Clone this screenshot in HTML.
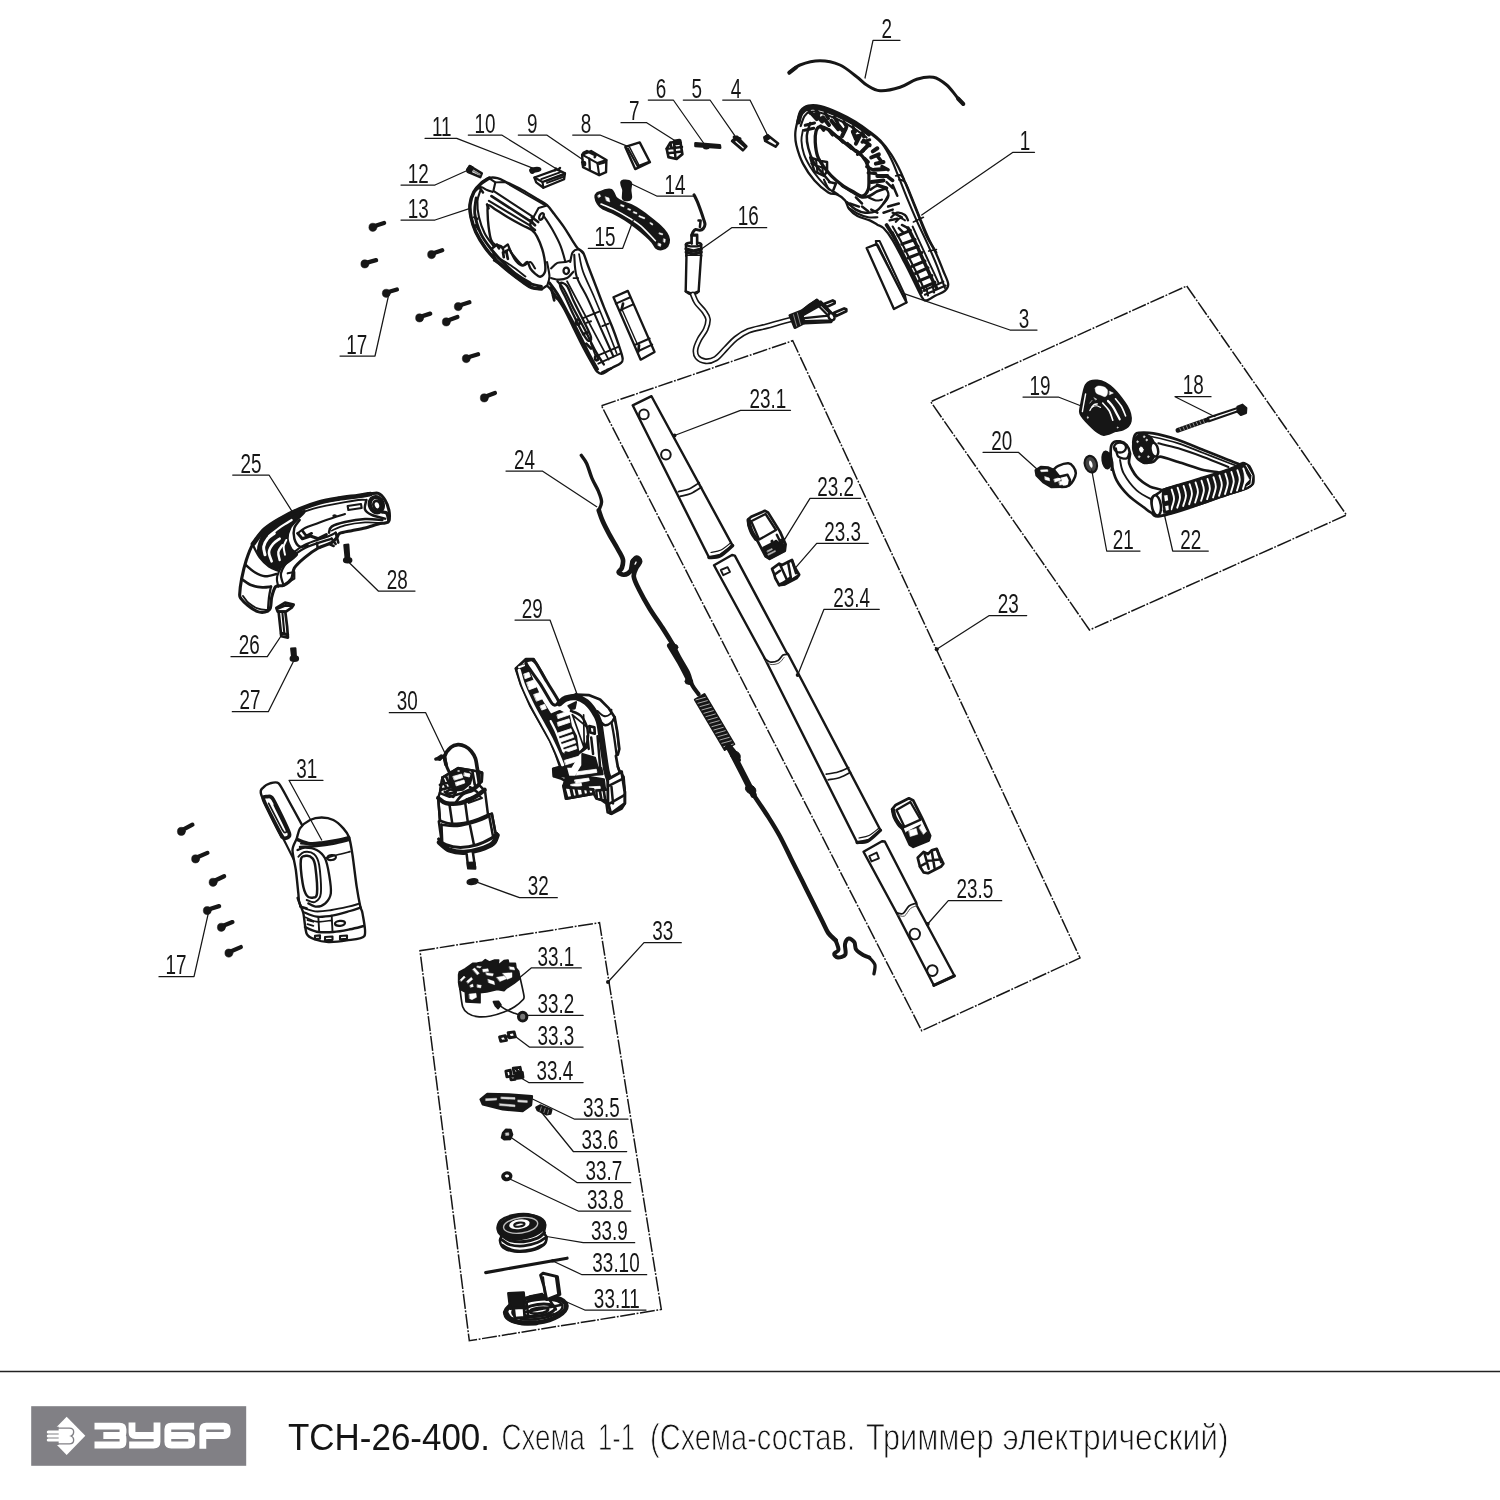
<!DOCTYPE html>
<html lang="ru"><head><meta charset="utf-8"><title>ТСН-26-400. Схема 1-1</title>
<style>
html,body{margin:0;padding:0;background:#fff;}
body{width:1500px;height:1500px;overflow:hidden;font-family:"Liberation Sans",sans-serif;}
svg{display:block;}
.z path,.z ellipse,.z circle,.z rect,.z line,.z polygon,.z polyline{vector-effect:non-scaling-stroke;}
</style></head><body>
<svg width="1500" height="1500" viewBox="0 0 1500 1500">
<rect width="1500" height="1500" fill="#fff"/>
<g fill="none" stroke="#161616" stroke-width="1.5" stroke-dasharray="15 1.6 1.8 1.6">
<polygon points="1186.7,286 1346.5,515 1089.5,630 930.7,401.7"/>
<polygon points="601.5,405.7 792.7,340.7 1080,958 921.7,1030.7"/>
<polygon points="420,950.7 599.5,922.7 661.3,1309.5 469.3,1340.7"/>
</g>
<!-- p01.py -->
<g class="z" transform="translate(770,90) scale(0.15337)" stroke-linecap="round" stroke-linejoin="round">
<path d="M180,200 C185.8,175.8 188.3,151.3 200,135 C211.7,118.7 228.3,107 250,102 C271.7,97 296.7,97 330,105 C363.3,113 411.7,132.8 450,150 C488.3,167.2 526.7,187.7 560,208 C593.3,228.3 623.3,251.7 650,272 C676.7,292.3 696.7,305.3 720,330 C743.3,354.7 768.3,386.7 790,420 C811.7,453.3 831.7,491.7 850,530 C868.3,568.3 881.7,605 900,650 C918.3,695 940,750 960,800 C980,850 1000,906.7 1020,950 C1040,993.3 1061.7,1021.7 1080,1060 C1098.3,1098.3 1116.3,1145.8 1130,1180 C1143.7,1214.2 1160.3,1243.3 1162,1265 C1163.7,1286.7 1153.7,1297.5 1140,1310 C1126.3,1322.5 1100,1329.7 1080,1340 C1060,1350.3 1035,1370.3 1020,1372 C1005,1373.7 1003.3,1370.3 990,1350 C976.7,1329.7 958.3,1286.7 940,1250 C921.7,1213.3 903.3,1175 880,1130 C856.7,1085 823.3,1018.3 800,980 C776.7,941.7 756.7,917 740,900 C723.3,883 715,886.3 700,878 C685,869.7 671.7,859.3 650,850 C628.3,840.7 592.5,834.5 570,822 C547.5,809.5 528.3,792 515,775 C501.7,758 502.5,735.5 490,720 C477.5,704.5 458.3,690.7 440,682 C421.7,673.3 405,683.3 380,668 C355,652.7 317.5,621.3 290,590 C262.5,558.7 234.7,518.3 215,480 C195.3,441.7 180.3,393.3 172,360 C163.7,326.7 163.7,306.7 165,280 C166.3,253.3 174.2,224.2 180,200Z" fill="#fff" stroke="#161616" stroke-width="2.3"/>
<path d="M185,210 C188.3,200 194.2,165.3 205,150 C215.8,134.7 229.2,122.7 250,118 C270.8,113.3 296.7,113.7 330,122 C363.3,130.3 411.7,150.7 450,168 C488.3,185.3 527.5,206 560,226 C592.5,246 630.8,277.7 645,288" fill="none" stroke="#161616" stroke-width="4.4"/>
<path d="M200,235 C204.2,224.2 214.7,185.5 225,170 C235.3,154.5 244.5,145.7 262,142 C279.5,138.3 298.7,139 330,148 C361.3,157 413.3,178.7 450,196 C486.7,213.3 520,233 550,252 C580,271 616.7,300.3 630,310" fill="none" stroke="#161616" stroke-width="2.1"/>
<path d="M300,270 C304.5,253.3 308.7,242 322,240 C335.3,238 362,248.3 380,258 C398,267.7 405,278 430,298 C455,318 501.7,356 530,378 C558.3,400 581.7,409.7 600,430 C618.3,450.3 632.5,475.8 640,500 C647.5,524.2 645,550 645,575 C645,600 647.5,630.5 640,650 C632.5,669.5 616.7,690 600,692 C583.3,694 561.7,674 540,662 C518.3,650 493.3,637 470,620 C446.7,603 420,580 400,560 C380,540 365,521.7 350,500 C335,478.3 319.2,456.7 310,430 C300.8,403.3 296.7,366.7 295,340 C293.3,313.3 295.5,286.7 300,270Z" fill="none" stroke="#161616" stroke-width="3.3"/>
<path d="M262,215 C258.3,229.2 242,272.5 240,300 C238,327.5 242.5,351.7 250,380 C257.5,408.3 270,443.3 285,470 C300,496.7 322.5,518.3 340,540 C357.5,561.7 381.7,590 390,600" fill="none" stroke="#161616" stroke-width="2.5"/>
<path d="M215,260 C213.3,271.7 203.8,303.3 205,330 C206.2,356.7 212.5,391.7 222,420 C231.5,448.3 245.7,473.3 262,500 C278.3,526.7 299.5,555 320,580 C340.5,605 374.2,638.3 385,650" fill="none" stroke="#161616" stroke-width="1.9"/>
<path d="M268,150 L305,190 M300,158 L340,205 M345,178 L385,228 M400,200 L445,255 M440,222 L480,272 M495,250 L470,300 M540,272 L560,320 M585,300 L560,350 M610,330 L650,360 M640,360 L600,400 M670,400 L700,380 M660,440 L710,420 M690,480 L740,470 M680,520 L750,515 M700,560 L765,560 M660,600 L740,590" fill="none" stroke="#161616" stroke-width="4"/>
<path d="M230,230 L290,215 M225,262 L285,250 M560,300 L610,290 M600,340 L650,325 M430,300 L470,330 M520,360 L560,400 M570,420 L610,395 M630,500 L670,520 M640,540 L690,545" fill="none" stroke="#161616" stroke-width="3.1"/>
<path d="M250,125 L262,150 M300,128 L318,160 M360,150 L380,185 M420,178 L440,212 M480,208 L500,240 M540,240 L556,272 M600,280 L612,305 M330,235 L350,262 M385,262 L408,292 M450,310 L475,338 M505,350 L530,378 M560,395 L590,415 M615,445 L640,470 M700,430 L730,470 M730,500 L770,520 M760,560 L800,590 M700,620 L760,640" fill="none" stroke="#161616" stroke-width="3.5"/>
<path d="M262,440 L330,462 L372,470 L372,530 L352,560 L290,530Z" fill="none" stroke="#161616" stroke-width="2.5"/>
<path d="M300,455 L310,540 M340,470 L345,550 M270,480 L350,510" fill="none" stroke="#161616" stroke-width="2.1"/>
<path d="M385,600 L430,610 L410,660 L440,680" fill="none" stroke="#161616" stroke-width="2.5"/>
<path d="M352,585 C356.7,594.2 368.7,626.2 380,640 C391.3,653.8 413.3,663.3 420,668" fill="none" stroke="#161616" stroke-width="2.1"/>
<path d="M470,625 C481.7,632.2 518.3,655.5 540,668 C561.7,680.5 581.7,696.3 600,700 C618.3,703.7 633.3,696.7 650,690 C666.7,683.3 681.7,668.3 700,660 C718.3,651.7 750,643.3 760,640" fill="none" stroke="#161616" stroke-width="2.7"/>
<path d="M500,730 C510,738.3 540,768.3 560,780 C580,791.7 598.3,798.3 620,800 C641.7,801.7 670,800 690,790 C710,780 726.7,756.7 740,740 C753.3,723.3 765,698.3 770,690" fill="none" stroke="#161616" stroke-width="2.5"/>
<path d="M515,770 C524.2,775.8 549.2,795 570,805 C590.8,815 618.3,825.8 640,830 C661.7,834.2 690,830 700,830" fill="none" stroke="#161616" stroke-width="2.1"/>
<path d="M655,650 C662.5,645.8 682.5,625 700,625 C717.5,625 748.3,637.5 760,650 C771.7,662.5 773.3,685 770,700 C766.7,715 745,733.3 740,740" fill="none" stroke="#161616" stroke-width="2.3"/>
<path d="M640,700 C648.3,703.3 675,717.5 690,720 C705,722.5 723.3,715.8 730,715" fill="none" stroke="#161616" stroke-width="2.1"/>
<path d="M520,740 L580,760 M600,760 L640,790 M660,780 L700,800 M560,700 L600,740 M760,600 L800,640 M800,620 L830,690 M770,760 L840,740 M740,800 L800,780 M800,800 L860,830 M780,850 L830,840" fill="none" stroke="#161616" stroke-width="2.5"/>
<path d="M790,830 C796.7,825 815,802.5 830,800 C845,797.5 868.3,806.7 880,815 C891.7,823.3 896.7,844.2 900,850" fill="none" stroke="#161616" stroke-width="2.3"/>
<path d="M820,860 C825,855.8 840,836.7 850,835 C860,833.3 875,847.5 880,850" fill="none" stroke="#161616" stroke-width="2.1"/>
<path d="M650,280 C663.3,291.7 706.7,321.7 730,350 C753.3,378.3 771.7,413.3 790,450 C808.3,486.7 821.7,525 840,570 C858.3,615 880,671.7 900,720 C920,768.3 938.3,811.7 960,860 C981.7,908.3 1008.3,961.7 1030,1010 C1051.7,1058.3 1071.7,1103.3 1090,1150 C1108.3,1196.7 1131.7,1266.7 1140,1290" fill="none" stroke="#161616" stroke-width="2.1"/>
<path d="M842,585 C848.3,587.5 867,582.5 880,600 C893,617.5 903.3,650 920,690 C936.7,730 960,791.7 980,840 C1000,888.3 1022.5,943.3 1040,980 C1057.5,1016.7 1077.5,1046.7 1085,1060" fill="none" stroke="#161616" stroke-width="2.1"/>
<path d="M820,560 C825,559.2 841.3,551.7 850,555 C858.7,558.3 868.3,575.8 872,580" fill="none" stroke="#161616" stroke-width="1.9"/>
<path d="M935,860 L1000,830" fill="none" stroke="#161616" stroke-width="1.7"/>
<path d="M1035,1050 L1085,1040" fill="none" stroke="#161616" stroke-width="1.7"/>
<path d="M760,880 C768.3,893.3 791.7,926.7 810,960 C828.3,993.3 850,1040 870,1080 C890,1120 910.8,1160 930,1200 C949.2,1240 975.8,1300 985,1320" fill="none" stroke="#161616" stroke-width="3.7"/>
<path d="M800,890 C808.3,905 831.7,945 850,980 C868.3,1015 891.7,1063.3 910,1100 C928.3,1136.7 943.3,1165 960,1200 C976.7,1235 1001.7,1291.7 1010,1310" fill="none" stroke="#161616" stroke-width="2.1"/>
<path d="M900,900 C908.3,916.7 933.3,965 950,1000 C966.7,1035 983.3,1073.3 1000,1110 C1016.7,1146.7 1035.8,1190 1050,1220 C1064.2,1250 1079.2,1278.3 1085,1290" fill="none" stroke="#161616" stroke-width="3.5"/>
<path d="M930,890 C938.3,908.3 961.7,960 980,1000 C998.3,1040 1020,1086.7 1040,1130 C1060,1173.3 1090,1238.3 1100,1260" fill="none" stroke="#161616" stroke-width="1.9"/>
<path d="M835,950 L915,915 M860,1005 L945,975 M880,1050 L965,1020 M900,1095 L990,1060 M925,1150 L1010,1115 M950,1195 L1030,1160 M970,1245 L1055,1210 M990,1290 L1075,1255" fill="none" stroke="#161616" stroke-width="3.1"/>
<path d="M1000,1310 L1130,1250 M1010,1335 L1145,1275 M1020,1290 L1030,1340 M1060,1275 L1070,1320" fill="none" stroke="#161616" stroke-width="2.1"/>
<path d="M840,900 L870,930 M860,880 L900,900 M800,930 L830,1000" fill="none" stroke="#161616" stroke-width="2.5"/>
</g>
<g class="z" transform="translate(770,90) scale(0.15337)" stroke-linecap="round" stroke-linejoin="round">
<path d="M630,1030 L695,1005 L890,1385 L808,1428Z" fill="#fff" stroke="#161616" stroke-width="2.3"/>
<path d="M695,1005 L690,985 L715,985 L880,1340 L890,1385" fill="none" stroke="#161616" stroke-width="2.1"/>
<path d="M705,1010 L872,1350" fill="none" stroke="#161616" stroke-width="1.4"/>
<path d="M808,1428 L800,1410" fill="none" stroke="#161616" stroke-width="1.7"/>
</g>
<!-- p02_16.py -->
<g class="z" transform="translate(0,0) scale(1.00000)" stroke-linecap="round" stroke-linejoin="round">
<path d="M789.3,72.7 C791.1,71.4 794.9,67 800,65 C805.1,63 813.3,60.7 820,60.7 C826.7,60.7 833.9,62.3 840,65 C846.1,67.7 852.2,73.4 856.7,76.7 C861.2,80 862.8,82.7 866.7,85 C870.6,87.3 874.5,90.3 880,90.7 C885.5,91.1 893.9,89.2 900,87.3 C906.1,85.4 911.2,81 916.7,79.3 C922.2,77.6 928.3,76.3 933.3,77.3 C938.3,78.2 942.8,81.8 946.7,85 C950.6,88.2 953.9,93.5 956.7,96.7 C959.5,99.9 962.2,102.8 963.3,104" fill="none" stroke="#161616" stroke-width="3"/>
<path d="M789.3,72.7 L796,67.5" fill="none" stroke="#161616" stroke-width="4"/>
<path d="M958,98.5 L963.3,104" fill="none" stroke="#161616" stroke-width="4"/>
</g>
<g class="z" transform="translate(520,110) scale(0.17999)" stroke-linecap="round" stroke-linejoin="round">
<ellipse cx="85" cy="332" rx="30" ry="11" transform="rotate(-8 85 332)" fill="#161616" stroke="#161616" stroke-width="1.6"/>
<ellipse cx="68" cy="338" rx="12" ry="14" fill="#161616" stroke="#161616" stroke-width="1.2"/>
<path d="M80,375 L205,330 L250,352 L245,385 L130,432 L90,402Z" fill="#fff" stroke="#161616" stroke-width="2.3"/>
<path d="M80,375 L125,400 L250,352" fill="none" stroke="#161616" stroke-width="2.1"/>
<path d="M125,400 L130,432" fill="none" stroke="#161616" stroke-width="2.1"/>
<path d="M118,384 L222,346 M138,396 L240,360 M150,405 L245,370" fill="none" stroke="#161616" stroke-width="1.9"/>
<path d="M195,335 L200,325 M215,330 L222,322" fill="none" stroke="#161616" stroke-width="2.5"/>
<path d="M345,248 L395,228 L480,278 L478,345 L440,362 L350,318Z" fill="#fff" stroke="#161616" stroke-width="2.4"/>
<path d="M345,248 L430,295 L480,278" fill="none" stroke="#161616" stroke-width="2.1"/>
<path d="M430,295 L440,362" fill="none" stroke="#161616" stroke-width="2.1"/>
<path d="M352,238 L372,228 L420,252 L415,262" fill="none" stroke="#161616" stroke-width="2.5"/>
<path d="M385,270 L388,330 M345,290 L360,300 M440,300 L475,290" fill="none" stroke="#161616" stroke-width="2.3"/>
<ellipse cx="355" cy="298" rx="9" ry="12" fill="#161616" stroke="#161616" stroke-width="1.6"/>
<path d="M585,205 L665,180 L722,290 L640,328Z" fill="#fff" stroke="#161616" stroke-width="2.4"/>
<path d="M600,215 L654,312 L718,288" fill="none" stroke="#161616" stroke-width="2.1"/>
<path d="M608,205 L660,305" fill="none" stroke="#161616" stroke-width="1.4"/>
<path d="M815,215 L835,182 L890,170 L902,245 L870,272 L825,262Z" fill="#fff" stroke="#161616" stroke-width="2.7"/>
<path d="M815,215 L900,205 M855,176 L864,268 M822,240 L898,230 M835,182 L842,212" fill="none" stroke="#161616" stroke-width="2.5"/>
<path d="M860,172 L885,168 M865,188 L892,184" fill="none" stroke="#161616" stroke-width="3.1"/>
<path d="M975,185 L1110,196 L1112,210 L975,200Z" fill="#161616" stroke="#161616" stroke-width="2.6"/>
<ellipse cx="1035" cy="207" rx="14" ry="8" fill="#161616" stroke="#161616" stroke-width="1.6"/>
<path d="M1178,172 L1205,148 L1258,202 L1238,224Z" fill="#161616" stroke="#161616" stroke-width="2.5"/>
<path d="M1200,175 L1240,210" fill="none" stroke="#fff" stroke-width="1.2"/>
<path d="M1190,150 L1222,160" fill="none" stroke="#161616" stroke-width="3.1"/>
<path d="M1358,152 L1376,140 L1434,186 L1420,204 L1362,172Z" fill="#fff" stroke="#161616" stroke-width="2.5"/>
<path d="M1358,152 L1376,140 L1384,158 L1364,172Z" fill="#161616" stroke="#161616" stroke-width="2.1"/>
</g>
<g class="z" transform="translate(670,190) scale(0.12666)" stroke-linecap="round" stroke-linejoin="round">
<path d="M190,38 C194.2,46.7 205.8,68 215,90 C224.2,112 236.7,146.7 245,170 C253.3,193.3 259.8,213 265,230 C270.2,247 276.5,259.5 276,272 C275.5,284.5 268.8,297.3 262,305 C255.2,312.7 245,316.8 235,318 C225,319.2 210.8,309.7 202,312 C193.2,314.3 187,324 182,332 C177,340 173.7,355.3 172,360" fill="none" stroke="#161616" stroke-width="3.1"/>
<path d="M225,240 L242,240 L236,292" fill="none" stroke="#161616" stroke-width="2.5"/>
<path d="M170,352 L215,352 L215,428 L170,428Z" fill="#fff" stroke="#161616" stroke-width="2.3"/>
<path d="M125,432 L130,522 L245,522 L247,432Z" fill="#fff" stroke="#161616" stroke-width="2.4"/>
<ellipse cx="186" cy="430" rx="61" ry="15" fill="#fff" stroke="#161616" stroke-width="2.4"/>
<path d="M172,425 L172,360 L213,360 L213,428" fill="#fff" stroke="#161616" stroke-width="2.3"/>
<path d="M127,465 C136.8,467.5 166.2,480 186,480 C205.8,480 236,467.5 246,465" fill="none" stroke="#161616" stroke-width="3.3"/>
<path d="M128,490 C137.7,492.5 166.3,505 186,505 C205.7,505 236,492.5 246,490" fill="none" stroke="#161616" stroke-width="3.3"/>
<path d="M130,515 C139.3,517.5 166.8,530 186,530 C205.2,530 235.2,517.5 245,515" fill="none" stroke="#161616" stroke-width="2.7"/>
<path d="M130,522 L124,800 L176,820 L226,800 L245,522" fill="#fff" stroke="#161616" stroke-width="2.4"/>
<path d="M124,800 C128.3,803 141.3,814.3 150,818 C158.7,821.7 166.8,822.3 176,822 C185.2,821.7 196.7,819.7 205,816 C213.3,812.3 222.5,802.7 226,800" fill="none" stroke="#161616" stroke-width="2.4"/>
<path d="M180,825 C185,835.8 195,867.5 210,890 C225,912.5 255,938.3 270,960 C285,981.7 298,996.7 300,1020 C302,1043.3 293.3,1073.3 282,1100 C270.7,1126.7 245.3,1153.3 232,1180 C218.7,1206.7 204.8,1236.7 202,1260 C199.2,1283.3 202,1304.7 215,1320 C228,1335.3 255.8,1350 280,1352 C304.2,1354 333.3,1348.7 360,1332 C386.7,1315.3 413.3,1278.7 440,1252 C466.7,1225.3 490,1195.3 520,1172 C550,1148.7 580,1128 620,1112 C660,1096 716.7,1087.7 760,1076 C803.3,1064.3 845.8,1051.3 880,1042 C914.2,1032.7 950.8,1023.7 965,1020" fill="none" stroke="#161616" stroke-width="5.9"/>
<path d="M180,825 C185,835.8 195,867.5 210,890 C225,912.5 255,938.3 270,960 C285,981.7 298,996.7 300,1020 C302,1043.3 293.3,1073.3 282,1100 C270.7,1126.7 245.3,1153.3 232,1180 C218.7,1206.7 204.8,1236.7 202,1260 C199.2,1283.3 202,1304.7 215,1320 C228,1335.3 255.8,1350 280,1352 C304.2,1354 333.3,1348.7 360,1332 C386.7,1315.3 413.3,1278.7 440,1252 C466.7,1225.3 490,1195.3 520,1172 C550,1148.7 580,1128 620,1112 C660,1096 716.7,1087.7 760,1076 C803.3,1064.3 845.8,1051.3 880,1042 C914.2,1032.7 950.8,1023.7 965,1020" fill="none" stroke="#fff" stroke-width="2.7"/>
<path d="M945,990 L1035,955 L1062,1050 L985,1088Z" fill="#161616" stroke="#161616" stroke-width="2.5"/>
<path d="M975,985 L1000,1075 M1005,970 L1030,1062" fill="none" stroke="#888" stroke-width="1"/>
<path d="M1035,958 L1160,868 L1292,1000 L1272,1042 L1062,1052Z" fill="#fff" stroke="#161616" stroke-width="2.7"/>
<path d="M1035,958 L1100,905 L1160,868 L1200,905 L1120,950 L1050,990Z" fill="#161616" stroke="#161616" stroke-width="2.1"/>
<path d="M1062,1012 L1250,992 M1150,892 L1275,1018 M1190,880 L1295,990 M1060,1035 L1270,1030" fill="none" stroke="#161616" stroke-width="2.3"/>
<path d="M1215,900 L1285,872 L1300,880 L1300,895 L1232,925Z" fill="#fff" stroke="#161616" stroke-width="2.7"/>
<path d="M1295,970 L1375,935 L1392,942 L1392,958 L1312,995Z" fill="#fff" stroke="#161616" stroke-width="2.7"/>
<ellipse cx="1275" cy="1000" rx="22" ry="30" transform="rotate(-30 1275 1000)" fill="#fff" stroke="#161616" stroke-width="2.5"/>
</g>
<g class="z" transform="translate(455,150) scale(0.08000)" stroke-linecap="round" stroke-linejoin="round">
<path d="M155,245 L185,200 L335,292 L315,340 L160,272Z" fill="#fff" stroke="#161616" stroke-width="2.5"/>
<path d="M150,248 L185,198 L225,222 L195,285 L158,272Z" fill="#161616" stroke="#161616" stroke-width="2.1"/>
<path d="M232,262 L312,308" fill="none" stroke="#888" stroke-width="1.7"/>
</g>
<g class="z" transform="translate(585,170) scale(0.08000)" stroke-linecap="round" stroke-linejoin="round">
<path d="M450,150 C452.5,144 470,131.5 480,130 C490,128.5 540,131.5 550,135 C560,138.5 578,153.5 580,165 C582,176.5 570,232.5 570,250 C570,267.5 581,327.5 580,340 C579,352.5 568,371 560,375 C552,379 509,382.5 500,380 C491,377.5 472.5,363 470,350 C467.5,337 476.5,266 475,250 C473.5,234 457.5,200 455,190 C452.5,180 447.5,156 450,150Z" fill="#161616" stroke="#161616" stroke-width="1.6"/>
<path d="M130,340 C128.7,322.7 139.3,299.3 150,290 C160.7,280.7 195.3,275.3 210,270 C224.7,264.7 244,252.7 260,250 C276,247.3 316.7,244.7 330,250 C343.3,255.3 352,276.7 360,290 C368,303.3 375.3,335.3 390,350 C404.7,364.7 444.7,388 470,400 C495.3,412 549.3,425.3 580,440 C610.7,454.7 668,488.7 700,510 C732,531.3 788,574.7 820,600 C852,625.3 913.3,674.7 940,700 C966.7,725.3 1005.3,767.3 1020,790 C1034.7,812.7 1048.7,848.7 1050,870 C1051.3,891.3 1042,934 1030,950 C1018,966 978.7,986.7 960,990 C941.3,993.3 906,987 890,975 C874,963 857.3,920.7 840,900 C822.7,879.3 786.7,844 760,820 C733.3,796 674.7,746.7 640,720 C605.3,693.3 537.3,644 500,620 C462.7,596 397.3,558.7 360,540 C322.7,521.3 246.7,496 220,480 C193.3,464 172,438.7 160,420 C148,401.3 131.3,357.3 130,340Z" fill="#161616" stroke="#161616" stroke-width="2.1"/>
<path d="M200,425 C226.7,436.2 300,462 360,492 C420,522 503.3,570 560,605 C616.7,640 646.7,655.3 700,702 C753.3,748.7 850,854.5 880,885" fill="none" stroke="#fff" stroke-width="1.6"/>
<path d="M255,335 L300,350 L310,400 L270,385Z" fill="#fff" stroke="#fff" stroke-width="0.5"/>
<path d="M450,430 L490,445 L485,462 L446,448Z" fill="#fff" stroke="#fff" stroke-width="0.5"/>
<path d="M540,480 L572,492 L566,506 L535,494Z" fill="#fff" stroke="#fff" stroke-width="0.5"/>
<path d="M610,520 L650,535 L645,550 L605,535Z" fill="#fff" stroke="#fff" stroke-width="0.5"/>
<path d="M680,570 L750,598 L742,612 L674,584Z" fill="#fff" stroke="#fff" stroke-width="0.5"/>
<path d="M930,785 L972,796 L968,812 L928,800Z" fill="#fff" stroke="#fff" stroke-width="0.5"/>
<path d="M985,860 L1004,866 L1000,905 L982,898Z" fill="#fff" stroke="#fff" stroke-width="0.5"/>
<path d="M918,915 L950,925 L944,955 L914,944Z" fill="#fff" stroke="#fff" stroke-width="0.5"/>
<path d="M160,320 L185,305 L195,330 L172,345Z" fill="#fff" stroke="#fff" stroke-width="0.5"/>
<path d="M820,655 L850,675 L842,690 L812,668Z" fill="#fff" stroke="#fff" stroke-width="0.5"/>
</g>
<!-- p13.py -->
<g class="z" transform="translate(455,150) scale(0.16005)" stroke-linecap="round" stroke-linejoin="round">
<path d="M215,175 C232.5,169 245.8,171 265,176 C284.2,181 304.2,192.7 330,205 C355.8,217.3 388.3,232.5 420,250 C451.7,267.5 494.2,294.2 520,310 C545.8,325.8 558.3,330 575,345 C591.7,360 602.5,377.5 620,400 C637.5,422.5 661.7,453.3 680,480 C698.3,506.7 715.8,538 730,560 C744.2,582 753.3,598.7 765,612 C776.7,625.3 789.2,622 800,640 C810.8,658 816.7,685 830,720 C843.3,755 863.3,806.7 880,850 C896.7,893.3 913.3,938.3 930,980 C946.7,1021.7 965,1061.7 980,1100 C995,1138.3 1008.8,1176.7 1020,1210 C1031.2,1243.3 1044.5,1279.7 1047,1300 C1049.5,1320.3 1046.2,1321.7 1035,1332 C1023.8,1342.3 999.2,1351.2 980,1362 C960.8,1372.8 935.3,1393.2 920,1397 C904.7,1400.8 898,1394.5 888,1385 C878,1375.5 874.7,1365.8 860,1340 C845.3,1314.2 820,1268.3 800,1230 C780,1191.7 760,1150 740,1110 C720,1070 700,1025 680,990 C660,955 635,921.3 620,900 C605,878.7 598,870.3 590,862 C582,853.7 580.3,849 572,850 C563.7,851 555.3,866.3 540,868 C524.7,869.7 500,867.7 480,860 C460,852.3 443.3,838.3 420,822 C396.7,805.7 366.7,783.7 340,762 C313.3,740.3 285,717 260,692 C235,667 211.7,642 190,612 C168.3,582 145,544 130,512 C115,480 106,448.7 100,420 C94,391.3 91,366.3 94,340 C97,313.7 107,283.3 118,262 C129,240.7 143.8,226.5 160,212 C176.2,197.5 197.5,181 215,175Z" fill="#fff" stroke="#161616" stroke-width="2.4"/>
<path d="M215,175 C205.8,181.2 176.2,197.5 160,212 C143.8,226.5 129,240.7 118,262 C107,283.3 97,313.7 94,340 C91,366.3 94,391.3 100,420 C106,448.7 115,480 130,512 C145,544 168.3,582 190,612 C211.7,642 235,667 260,692 C285,717 313.3,740.3 340,762 C366.7,783.7 396.7,805.7 420,822 C443.3,838.3 460,852.3 480,860 C500,867.7 530,866.7 540,868" fill="none" stroke="#161616" stroke-width="3.5"/>
<path d="M208,345 C215.7,340 229.7,357.5 250,370 C270.3,382.5 301.7,403.3 330,420 C358.3,436.7 395,456.7 420,470 C445,483.3 464.7,488.3 480,500 C495.3,511.7 501.2,520 512,540 C522.8,560 536.7,593.3 545,620 C553.3,646.7 559.2,676.3 562,700 C564.8,723.7 567,746.7 562,762 C557,777.3 542.3,790.3 532,792 C521.7,793.7 510,780.3 500,772 C490,763.7 480,754 472,742 C464,730 460.7,703.3 452,700 C443.3,696.7 432,723.3 420,722 C408,720.7 391.3,705.3 380,692 C368.7,678.7 359,654 352,642 C345,630 345,620.3 338,620 C331,619.7 318,643 310,640 C302,637 300,610 290,602 C280,594 260.8,599 250,592 C239.2,585 231.7,578.7 225,560 C218.3,541.3 213.5,506.7 210,480 C206.5,453.3 204.3,422.5 204,400 C203.7,377.5 200.3,350 208,345Z" fill="none" stroke="#161616" stroke-width="2.4"/>
<path d="M215,178 L252,202 L240,255 L490,420 L522,362 L575,347" fill="none" stroke="#161616" stroke-width="2.1"/>
<path d="M252,202 L312,200 L562,345" fill="none" stroke="#161616" stroke-width="1.9"/>
<path d="M228,288 L482,452" fill="none" stroke="#161616" stroke-width="2.7"/>
<path d="M212,318 L470,472" fill="none" stroke="#161616" stroke-width="2.1"/>
<path d="M490,420 C486.7,428.3 468.3,456.7 470,470 C471.7,483.3 495,495 500,500" fill="none" stroke="#161616" stroke-width="2.5"/>
<ellipse cx="540" cy="415" rx="12" ry="22" transform="rotate(25 540 415)" fill="none" stroke="#161616" stroke-width="2.3"/>
<path d="M470,440 L500,470 M480,420 L520,450" fill="none" stroke="#161616" stroke-width="2.7"/>
<path d="M132,300 C130.7,316.7 119.3,363.3 124,400 C128.7,436.7 144,484.7 160,520 C176,555.3 196.7,581.7 220,612 C243.3,642.3 270,672 300,702 C330,732 373.3,770.3 400,792 C426.7,813.7 436.7,822 460,832 C483.3,842 526.7,848.7 540,852" fill="none" stroke="#161616" stroke-width="2.9"/>
<path d="M160,250 C156.7,261.7 141.7,291.7 140,320 C138.3,348.3 142.5,386.7 150,420 C157.5,453.3 170,490 185,520 C200,550 230.8,586.7 240,600" fill="none" stroke="#161616" stroke-width="2.1"/>
<path d="M120,262 C126.7,257 146.7,234 160,232 C173.3,230 187.5,245 200,250 C212.5,255 229.2,260 235,262" fill="none" stroke="#161616" stroke-width="2.1"/>
<path d="M150,230 L175,265 M130,470 L150,500 M120,420 L140,430 M200,340 L210,365" fill="none" stroke="#161616" stroke-width="2.5"/>
<path d="M225,620 L262,592 L300,612 L330,590 L350,640" fill="none" stroke="#161616" stroke-width="2.3"/>
<path d="M240,640 L250,680 M320,630 L330,680 M300,640 L305,670 M262,592 L275,615" fill="none" stroke="#161616" stroke-width="2.7"/>
<path d="M245,690 C259.2,698.7 300.8,723.7 330,742 C359.2,760.3 396.7,785.3 420,800 C443.3,814.7 461.7,825 470,830" fill="none" stroke="#161616" stroke-width="2.7"/>
<path d="M265,672 C279.2,680.3 320.8,702.3 350,722 C379.2,741.7 425,778.7 440,790" fill="none" stroke="#161616" stroke-width="1.9"/>
<path d="M352,642 C360,651.7 387,686.7 400,700 C413,713.3 418.3,722 430,722 C441.7,722 458.3,697 470,700 C481.7,703 495,733.3 500,740" fill="none" stroke="#161616" stroke-width="2.1"/>
<path d="M560,420 C568.3,433.3 593.3,470 610,500 C626.7,530 646.7,566.7 660,600 C673.3,633.3 685,683.3 690,700" fill="none" stroke="#161616" stroke-width="2.1"/>
<path d="M575,700 C577.5,715 590,765 590,790 C590,815 577.5,840 575,850" fill="none" stroke="#161616" stroke-width="2.1"/>
<path d="M600,740 C606.7,734.2 625,711.7 640,705 C655,698.3 676.7,702.5 690,700 C703.3,697.5 715,691.7 720,690" fill="none" stroke="#161616" stroke-width="2.1"/>
<ellipse cx="695" cy="755" rx="17" ry="20" fill="none" stroke="#161616" stroke-width="2.3"/>
<path d="M720,700 C722.5,690 726.3,653 735,640 C743.7,627 761.2,621.2 772,622 C782.8,622.8 795.3,641.2 800,645" fill="none" stroke="#161616" stroke-width="2.1"/>
<path d="M745,655 C747.5,677.5 745.8,744.2 760,790 C774.2,835.8 805.8,878.3 830,930 C854.2,981.7 878.3,1040 905,1100 C931.7,1160 975.8,1258.3 990,1290" fill="none" stroke="#161616" stroke-width="2.1"/>
<path d="M775,650 C779.2,668.3 784.2,715 800,760 C815.8,805 846.7,865 870,920 C893.3,975 916.7,1031.7 940,1090 C963.3,1148.3 998.3,1240 1010,1270" fill="none" stroke="#161616" stroke-width="1.7"/>
<path d="M590,830 C598.3,841.7 621.7,870 640,900 C658.3,930 678.3,970 700,1010 C721.7,1050 746.7,1095 770,1140 C793.3,1185 820,1241.7 840,1280 C860,1318.3 881.7,1355 890,1370" fill="none" stroke="#161616" stroke-width="3.1"/>
<path d="M640,820 C646.7,828.3 663.3,841.7 680,870 C696.7,898.3 718.3,948.3 740,990 C761.7,1031.7 786.7,1075 810,1120 C833.3,1165 860,1223.3 880,1260 C900,1296.7 921.7,1326.7 930,1340" fill="none" stroke="#161616" stroke-width="2.3"/>
<path d="M600,800 C608.3,801.7 633.3,810 650,810 C666.7,810 685,808.3 700,800 C715,791.7 733.3,766.7 740,760" fill="none" stroke="#161616" stroke-width="2.1"/>
<path d="M660,830 C666.7,828.3 686.7,831.7 700,850 C713.3,868.3 723.3,905 740,940 C756.7,975 781.7,1021.7 800,1060 C818.3,1098.3 845,1148.3 850,1170 C855,1191.7 840,1196.7 830,1190 C820,1183.3 805,1156.7 790,1130 C775,1103.3 756.7,1065 740,1030 C723.3,995 703.3,948.3 690,920 C676.7,891.7 665,875 660,860 C655,845 653.3,831.7 660,830Z" fill="none" stroke="#161616" stroke-width="2.3"/>
<path d="M700,820 L960,1310" fill="none" stroke="#161616" stroke-width="1.7"/>
<path d="M740,800 L770,800" fill="none" stroke="#161616" stroke-width="1.7"/>
<path d="M800,1050 L900,1010 M820,1080 L850,1070 M920,1100 L960,1085 M850,1210 L880,1290 M880,1290 L1020,1230 M895,1335 L1035,1270" fill="none" stroke="#161616" stroke-width="1.9"/>
<ellipse cx="768" cy="1075" rx="12" ry="16" fill="none" stroke="#161616" stroke-width="2.7"/>
<ellipse cx="885" cy="1300" rx="10" ry="14" fill="none" stroke="#161616" stroke-width="2.7"/>
<path d="M820,1210 L850,1240 M800,1150 L830,1140 M600,860 L620,940 M610,900 L640,930" fill="none" stroke="#161616" stroke-width="2.7"/>
<path d="M920,1390 L940,1380 M950,1375 L975,1365" fill="none" stroke="#161616" stroke-width="2.7"/>
</g>
<g class="z" transform="translate(455,150) scale(0.16005)" stroke-linecap="round" stroke-linejoin="round">
<path d="M990,920 L1080,880 L1247,1262 L1160,1310Z" fill="#fff" stroke="#161616" stroke-width="2.3"/>
<path d="M1005,960 L1095,920 M1030,1002 L1110,966 M1130,1215 L1216,1178 M1146,1256 L1232,1216" fill="none" stroke="#161616" stroke-width="2.1"/>
<path d="M1040,1000 L1050,960 M1145,1260 L1150,1220" fill="none" stroke="#161616" stroke-width="2.7"/>
<path d="M1045,1000 L1140,1215" fill="none" stroke="#161616" stroke-width="1.4"/>
</g>
<!-- p17.py -->
<g class="z" transform="translate(0,0) scale(1.00000)" stroke-linecap="round" stroke-linejoin="round">
<path d="M372.3,226.7 L384.1,223" fill="none" stroke="#161616" stroke-width="4.3"/>
<ellipse cx="372.9" cy="227.3" rx="4" ry="4.1" fill="#161616" stroke="#161616" stroke-width="0.5"/>
<path d="M364.3,263.3 L376.1,260.2" fill="none" stroke="#161616" stroke-width="4.3"/>
<ellipse cx="364.9" cy="263.9" rx="4" ry="4.1" fill="#161616" stroke="#161616" stroke-width="0.5"/>
<path d="M431,254 L442.2,250.3" fill="none" stroke="#161616" stroke-width="4.3"/>
<ellipse cx="431.6" cy="254.6" rx="4" ry="4.1" fill="#161616" stroke="#161616" stroke-width="0.5"/>
<path d="M385.7,292.7 L396.9,289.5" fill="none" stroke="#161616" stroke-width="4.3"/>
<ellipse cx="386.3" cy="293.3" rx="4" ry="4.1" fill="#161616" stroke="#161616" stroke-width="0.5"/>
<path d="M419,317.3 L430.2,313.6" fill="none" stroke="#161616" stroke-width="4.3"/>
<ellipse cx="419.6" cy="317.9" rx="4" ry="4.1" fill="#161616" stroke="#161616" stroke-width="0.5"/>
<path d="M457.7,306 L469.4,302.3" fill="none" stroke="#161616" stroke-width="4.3"/>
<ellipse cx="458.3" cy="306.6" rx="4" ry="4.1" fill="#161616" stroke="#161616" stroke-width="0.5"/>
<path d="M445.7,321.3 L457.4,317" fill="none" stroke="#161616" stroke-width="4.3"/>
<ellipse cx="446.3" cy="321.9" rx="4" ry="4.1" fill="#161616" stroke="#161616" stroke-width="0.5"/>
<path d="M465.7,358 L478.1,354.3" fill="none" stroke="#161616" stroke-width="4.3"/>
<ellipse cx="466.3" cy="358.6" rx="4" ry="4.1" fill="#161616" stroke="#161616" stroke-width="0.5"/>
<path d="M483.7,397.3 L494.9,393" fill="none" stroke="#161616" stroke-width="4.3"/>
<ellipse cx="484.3" cy="397.9" rx="4" ry="4.1" fill="#161616" stroke="#161616" stroke-width="0.5"/>
<path d="M180.8,830.8 L192.4,824.7" fill="none" stroke="#161616" stroke-width="4.3"/>
<ellipse cx="181.4" cy="831.4" rx="4" ry="4.1" fill="#161616" stroke="#161616" stroke-width="0.5"/>
<path d="M195,858.3 L207.4,852.9" fill="none" stroke="#161616" stroke-width="4.3"/>
<ellipse cx="195.6" cy="858.9" rx="4" ry="4.1" fill="#161616" stroke="#161616" stroke-width="0.5"/>
<path d="M212.5,881.7 L224.1,876.2" fill="none" stroke="#161616" stroke-width="4.3"/>
<ellipse cx="213.1" cy="882.3" rx="4" ry="4.1" fill="#161616" stroke="#161616" stroke-width="0.5"/>
<path d="M206.7,910 L219.1,906.1" fill="none" stroke="#161616" stroke-width="4.3"/>
<ellipse cx="207.3" cy="910.6" rx="4" ry="4.1" fill="#161616" stroke="#161616" stroke-width="0.5"/>
<path d="M220.8,926.7 L232.4,922.1" fill="none" stroke="#161616" stroke-width="4.3"/>
<ellipse cx="221.4" cy="927.3" rx="4" ry="4.1" fill="#161616" stroke="#161616" stroke-width="0.5"/>
<path d="M228.3,952.5 L240.8,947.1" fill="none" stroke="#161616" stroke-width="4.3"/>
<ellipse cx="228.9" cy="953.1" rx="4" ry="4.1" fill="#161616" stroke="#161616" stroke-width="0.5"/>
</g>
<!-- p18_22.py -->
<g class="z" transform="translate(1020,370) scale(0.16667)" stroke-linecap="round" stroke-linejoin="round">
<path d="M948,362 L1130,297" fill="none" stroke="#161616" stroke-width="4.8"/>
<path d="M1128,286 L1310,226 L1316,244 L1134,308Z" fill="#fff" stroke="#161616" stroke-width="2.1"/>
<path d="M1305,220 L1335,208 L1358,228 L1356,258 L1325,270 L1305,250Z" fill="#161616" stroke="#161616" stroke-width="2.1"/>
<path d="M958,348 L966,366" fill="none" stroke="#aaa" stroke-width="0.8"/>
<path d="M978,340.8 L986,358.8" fill="none" stroke="#aaa" stroke-width="0.8"/>
<path d="M998,333.6 L1006,351.6" fill="none" stroke="#aaa" stroke-width="0.8"/>
<path d="M1018,326.4 L1026,344.4" fill="none" stroke="#aaa" stroke-width="0.8"/>
<path d="M1038,319.2 L1046,337.2" fill="none" stroke="#aaa" stroke-width="0.8"/>
<path d="M1058,312 L1066,330" fill="none" stroke="#aaa" stroke-width="0.8"/>
<path d="M1078,304.8 L1086,322.8" fill="none" stroke="#aaa" stroke-width="0.8"/>
<path d="M1098,297.6 L1106,315.6" fill="none" stroke="#aaa" stroke-width="0.8"/>
<path d="M700,380 C714,374.2 770.8,375.3 800,380 C829.2,384.7 915,408.3 950,420 C985,431.7 1065,466 1100,480 C1135,494 1220.8,528.3 1250,540 C1279.2,551.7 1333.4,570.1 1350,580 C1366.6,589.9 1386.4,613.3 1392,625 C1397.6,636.7 1402.9,669.9 1398,680 C1393.1,690.1 1373.1,702.7 1350,712 C1326.9,721.3 1240.8,746 1200,760 C1159.2,774 1043.2,818.2 1000,832 C956.8,845.8 854.5,875.9 830,878 C805.5,880.1 794.7,862.6 790,850 C785.3,837.4 783,784.9 790,770 C797,755.1 825.5,732.5 850,722 C874.5,711.5 960.3,691.9 1000,680 C1039.7,668.1 1178.3,629.3 1190,620 C1201.7,610.7 1128,607.9 1100,600 C1072,592.1 980.3,561.3 950,552 C919.7,542.7 857.5,520.2 840,520 C822.5,519.8 811.7,545.9 800,550 C788.3,554.1 752.8,560.8 740,555 C727.2,549.2 697,514.6 690,500 C683,485.4 678.8,444 680,430 C681.2,416 686,385.8 700,380Z" fill="#fff" stroke="#161616" stroke-width="2.7"/>
<path d="M830,440 C850,445 905,456.3 950,470 C995,483.7 1050,503.3 1100,522 C1150,540.7 1225,572 1250,582" fill="none" stroke="#161616" stroke-width="2.1"/>
<path d="M720,392 C733.3,393.7 761.7,394 800,402 C838.3,410 900,424 950,440 C1000,456 1050,478.7 1100,498 C1150,517.3 1210,540.7 1250,556 C1290,571.3 1325,584.3 1340,590" fill="none" stroke="#161616" stroke-width="1.7"/>
<ellipse cx="745" cy="470" rx="62" ry="84" transform="rotate(-12 745 470)" fill="#161616" stroke="#161616" stroke-width="3.5"/>
<ellipse cx="738" cy="475" rx="40" ry="60" transform="rotate(-12 738 475)" fill="#161616" stroke="#161616" stroke-width="5.2"/>
<ellipse cx="728" cy="478" rx="10" ry="16" transform="rotate(-12 728 478)" fill="#fff" stroke="#fff" stroke-width="1"/>
<ellipse cx="705" cy="430" rx="5" ry="6" fill="#ddd" stroke="#ddd" stroke-width="0.5"/>
<ellipse cx="760" cy="420" rx="5" ry="6" fill="#ddd" stroke="#ddd" stroke-width="0.5"/>
<ellipse cx="715" cy="520" rx="5" ry="6" fill="#ddd" stroke="#ddd" stroke-width="0.5"/>
<ellipse cx="770" cy="520" rx="5" ry="6" fill="#ddd" stroke="#ddd" stroke-width="0.5"/>
<ellipse cx="745" cy="400" rx="5" ry="6" fill="#ddd" stroke="#ddd" stroke-width="0.5"/>
<ellipse cx="806" cy="478" rx="22" ry="42" transform="rotate(-12 806 478)" fill="#fff" stroke="#161616" stroke-width="2.5"/>
<path d="M850,722 C875,715 943.3,697 1000,680 C1056.7,663 1141.7,635.3 1190,620 C1238.3,604.7 1264.2,594.7 1290,588 C1315.8,581.3 1335.8,581.3 1345,580" fill="none" stroke="#161616" stroke-width="2.3"/>
<path d="M545,470 C546.3,453.1 552.7,440.6 560,435 C567.3,429.4 589.3,426 600,428 C610.7,430 632,440.4 640,450 C648,459.6 658,485.3 660,500 C662,514.7 649.7,541.3 655,560 C660.3,578.7 683.3,621.3 700,640 C716.7,658.7 760,689.1 780,700 C800,710.9 848.7,712.4 850,722 C851.3,731.6 796.7,753.6 790,772 C783.3,790.4 806.7,853.3 800,860 C793.3,866.7 760,836.4 740,822 C720,807.6 671.3,773.3 650,752 C628.7,730.7 593.3,687.3 580,662 C566.7,636.7 554.7,587.6 550,562 C545.3,536.4 543.7,486.9 545,470Z" fill="#fff" stroke="#161616" stroke-width="2.7"/>
<path d="M600,540 C603.7,553.3 605.3,589.7 622,620 C638.7,650.3 670.3,695 700,722 C729.7,749 783.3,772 800,782" fill="none" stroke="#161616" stroke-width="1.9"/>
<path d="M575,470 C577.5,478.3 579.2,510 590,520 C600.8,530 629.2,533.3 640,530 C650.8,526.7 652.5,505 655,500" fill="none" stroke="#161616" stroke-width="2.3"/>
<ellipse cx="600" cy="465" rx="36" ry="30" fill="none" stroke="#161616" stroke-width="2.3"/>
<ellipse cx="520" cy="540" rx="24" ry="50" transform="rotate(-8 520 540)" fill="#161616" stroke="#161616" stroke-width="2.5"/>
<path d="M540,500 C542.5,510 553.7,543.3 555,560 C556.3,576.7 549.2,593.3 548,600" fill="none" stroke="#161616" stroke-width="2.1"/>
<ellipse cx="425" cy="565" rx="33" ry="48" transform="rotate(-15 425 565)" fill="#fff" stroke="#161616" stroke-width="3.1"/>
<ellipse cx="425" cy="565" rx="20" ry="33" transform="rotate(-15 425 565)" fill="none" stroke="#444" stroke-width="3.5"/>
<path d="M200,600 C205,595.8 215,581.7 230,575 C245,568.3 275,559.2 290,560 C305,560.8 312.5,570 320,580 C327.5,590 335,606.3 335,620 C335,633.7 326.7,650 320,662 C313.3,674 306.7,685.3 295,692 C283.3,698.7 263.3,702.3 250,702 C236.7,701.7 220.8,692 215,690" fill="#fff" stroke="#161616" stroke-width="2.5"/>
<path d="M95,602 L125,582 L170,586 L205,602 L235,640 L250,700 L190,702 L140,672 L100,632Z" fill="#161616" stroke="#161616" stroke-width="2.7"/>
<path d="M150,640 L175,648 L178,665 L152,658Z" fill="#fff" stroke="#fff" stroke-width="0.6"/>
<path d="M205,655 L240,645 L245,660 L210,672Z" fill="#fff" stroke="#fff" stroke-width="0.6"/>
<path d="M125,600 L165,598 L168,608 L128,610Z" fill="#fff" stroke="#fff" stroke-width="0.6"/>
<path d="M235,670 L290,660 L292,680 L240,690Z" fill="#fff" stroke="#fff" stroke-width="0.6"/>
<path d="M235,640 L285,628 L300,660 L295,690" fill="none" stroke="#161616" stroke-width="2.5"/>
</g>
<g class="z" transform="translate(1060,370) scale(0.05333)" stroke-linecap="round" stroke-linejoin="round">
<path d="M370,780 C370,745.3 390.7,650.7 400,600 C409.3,549.3 429.3,442.7 440,400 C450.7,357.3 464,305.3 480,280 C496,254.7 530.7,221.3 560,210 C589.3,198.7 661.3,191 700,195 C738.7,199 810,219.3 850,240 C890,260.7 960,312.7 1000,350 C1040,387.3 1115.3,476 1150,520 C1184.7,564 1237.3,640 1260,680 C1282.7,720 1310.7,782.7 1320,820 C1329.3,857.3 1335.3,928 1330,960 C1324.7,992 1300,1038.7 1280,1060 C1260,1081.3 1212,1108 1180,1120 C1148,1132 1074.7,1139.3 1040,1150 C1005.3,1160.7 949.3,1190.4 920,1200 C890.7,1209.6 846.7,1224.7 820,1222 C793.3,1219.3 749.3,1198.9 720,1180 C690.7,1161.1 632,1109.3 600,1080 C568,1050.7 506.7,989.3 480,960 C453.3,930.7 414.7,884 400,860 C385.3,836 370,814.7 370,780Z" fill="#161616" stroke="#161616" stroke-width="1.6"/>
<path d="M660,340 C665.3,322.7 697.3,302.7 720,300 C742.7,297.3 807.3,309.3 830,320 C852.7,330.7 883.3,360 890,380 C896.7,400 886.7,454 880,470 C873.3,486 856,500 840,500 C824,500 781.3,479.3 760,470 C738.7,460.7 693.3,447.3 680,430 C666.7,412.7 654.7,357.3 660,340Z" fill="#fff" stroke="#fff" stroke-width="0.5"/>
<path d="M930,400 L1000,432 L930,462Z" fill="#fff" stroke="#fff" stroke-width="0.5"/>
<path d="M900,580 C916.7,600 970,655 1000,700 C1030,745 1060,812.5 1080,850 C1100,887.5 1113.3,912.5 1120,925" fill="none" stroke="#fff" stroke-width="2.2"/>
<path d="M800,620 C820,643.3 888.3,706.7 920,760 C951.7,813.3 978.3,910 990,940" fill="none" stroke="#fff" stroke-width="1.6"/>
<path d="M1040,540 C1058.3,563.3 1118.3,626.7 1150,680 C1181.7,733.3 1216.7,830 1230,860" fill="none" stroke="#fff" stroke-width="1.6"/>
<path d="M480,450 C474.2,481.7 455,585 445,640 C435,695 424.2,756.7 420,780" fill="none" stroke="#fff" stroke-width="1.4"/>
<path d="M600,690 C606.7,683.3 623.3,659.2 640,650 C656.7,640.8 690,637.5 700,635" fill="none" stroke="#fff" stroke-width="1.4"/>
<path d="M560,760 C566.7,750 580,715 600,700 C620,685 653.3,670 680,670 C706.7,670 746.7,695 760,700" fill="none" stroke="#fff" stroke-width="1.2"/>
<path d="M560,620 L600,570" fill="none" stroke="#ddd" stroke-width="0.7"/>
<path d="M640,520 L690,548 L670,560Z" fill="#fff" stroke="#fff" stroke-width="0.4"/>
<ellipse cx="520" cy="890" rx="14" ry="20" fill="#ddd" stroke="#ddd" stroke-width="0.3"/>
<ellipse cx="1080" cy="1080" rx="14" ry="14" fill="#ccc" stroke="#ccc" stroke-width="0.3"/>
</g>
<g class="z" transform="translate(1100,420) scale(0.10667)" stroke-linecap="round" stroke-linejoin="round">
<path d="M600,655 C617,639 724,611.5 760,600 C796,588.5 921,552 960,540 C999,528 1120,490 1150,480 C1180,470 1241,447.8 1260,440 C1279,432.2 1326,403 1340,402 C1354,401 1390,418.2 1400,430 C1410,441.8 1437,503 1440,520 C1443,537 1436,588 1430,600 C1424,612 1403,630 1380,640 C1357,650 1238,687 1200,700 C1162,713 1040,757 1000,770 C960,783 835,819.2 800,830 C765,840.8 669,875 650,878 C631,881 616,871.8 610,860 C604,848.2 591,780.5 590,760 C589,739.5 583,671 600,655Z" fill="#161616" stroke="#161616" stroke-width="2.1"/>
<path d="M672,652 C675.7,666.7 694.7,709 694,740 C693.3,771 672.3,821.7 668,838" fill="none" stroke="#fff" stroke-width="1.9"/>
<path d="M728,635.5 C731.7,650.2 750.7,692.4 750,723.5 C749.3,754.6 728.3,805.6 724,822" fill="none" stroke="#fff" stroke-width="1.9"/>
<path d="M784,619 C787.7,633.7 806.7,675.8 806,707 C805.3,738.2 784.3,789.5 780,806" fill="none" stroke="#fff" stroke-width="1.9"/>
<path d="M840,602.5 C843.7,617.2 862.7,659.3 862,690.5 C861.3,721.7 840.3,773.4 836,790" fill="none" stroke="#fff" stroke-width="1.9"/>
<path d="M896,586 C899.7,600.7 918.7,642.7 918,674 C917.3,705.3 896.3,757.3 892,774" fill="none" stroke="#fff" stroke-width="1.9"/>
<path d="M952,569.5 C955.7,584.2 974.7,626.1 974,657.5 C973.3,688.9 952.3,741.2 948,758" fill="none" stroke="#fff" stroke-width="1.9"/>
<path d="M1008,553 C1011.7,567.7 1030.7,609.5 1030,641 C1029.3,672.5 1008.3,725.1 1004,742" fill="none" stroke="#fff" stroke-width="1.9"/>
<path d="M1064,536.5 C1067.7,551.2 1086.7,592.9 1086,624.5 C1085.3,656.1 1064.3,709.1 1060,726" fill="none" stroke="#fff" stroke-width="1.9"/>
<path d="M1120,520 C1123.7,534.7 1142.7,576.3 1142,608 C1141.3,639.7 1120.3,693 1116,710" fill="none" stroke="#fff" stroke-width="1.9"/>
<path d="M1176,503.5 C1179.7,518.2 1198.7,559.8 1198,591.5 C1197.3,623.2 1176.3,676.9 1172,694" fill="none" stroke="#fff" stroke-width="1.9"/>
<path d="M1232,487 C1235.7,501.7 1254.7,543.2 1254,575 C1253.3,606.8 1232.3,660.8 1228,678" fill="none" stroke="#fff" stroke-width="1.9"/>
<path d="M1288,470.5 C1291.7,485.2 1310.7,526.6 1310,558.5 C1309.3,590.4 1288.3,644.7 1284,661.9" fill="none" stroke="#fff" stroke-width="1.9"/>
<path d="M1344,454 C1347.7,468.7 1366.7,510 1366,542 C1365.3,574 1344.3,628.6 1340,645.9" fill="none" stroke="#fff" stroke-width="1.9"/>
<path d="M1370,425 L1425,520 L1415,600 L1375,625" fill="none" stroke="#fff" stroke-width="1"/>
<path d="M1350,470 L1400,560 L1360,600Z" fill="#fff" stroke="#fff" stroke-width="0.5"/>
<ellipse cx="528" cy="800" rx="42" ry="95" transform="rotate(-8 528 800)" fill="#fff" stroke="#161616" stroke-width="2.5"/>
<path d="M590,700 L640,690 L650,760 L600,775Z" fill="#fff" stroke="#161616" stroke-width="2.1"/>
<path d="M600,800 L650,790 L655,850 L610,862Z" fill="#fff" stroke="#161616" stroke-width="2.1"/>
</g>
<!-- p23.py -->
<g class="z" transform="translate(0,0) scale(1.00000)" stroke-linecap="round" stroke-linejoin="round">
<path d="M632.7,405.3 L651.5,396.2 L732.6,545.6 L720,555 L709,557.5Z" fill="#fff" stroke="#161616" stroke-width="2.4"/>
<path d="M709,557.5 C710.8,557.2 716.1,558 720,556 C723.9,554 730.5,547.3 732.6,545.6" fill="none" stroke="#161616" stroke-width="3.5"/>
<path d="M711,552.5 C712.7,552.1 717.8,551.6 721,550 C724.2,548.4 728.9,544.2 730.5,543" fill="none" stroke="#161616" stroke-width="1.2"/>
<ellipse cx="643.9" cy="414.4" rx="4.8" ry="4.9" fill="none" stroke="#161616" stroke-width="2"/>
<ellipse cx="665.9" cy="454.6" rx="4.8" ry="4.9" fill="none" stroke="#161616" stroke-width="2"/>
<path d="M678.3,491.7 C680.1,491.2 685.5,490.5 689,489 C692.5,487.5 697.6,483.8 699.3,482.7" fill="none" stroke="#161616" stroke-width="1.7"/>
<path d="M680.2,496.4 C682,495.9 687.5,495 691,493.5 C694.5,492 699.8,488.2 701.5,487.2" fill="none" stroke="#161616" stroke-width="1.7"/>
<path d="M714,565.2 L732,555 L734.8,555.6 L786.5,652.5 L788.3,654.5 L880.5,830.2 L869,840 L857.1,842.5 L765,659 L764,657Z" fill="#fff" stroke="#161616" stroke-width="2.4"/>
<path d="M857.1,842.5 C858.9,842.2 864.1,843 868,841 C871.9,839 878.4,832 880.5,830.2" fill="none" stroke="#161616" stroke-width="3.3"/>
<path d="M859,838 C860.7,837.6 865.8,837.1 869,835.5 C872.2,833.9 876.9,829.7 878.5,828.5" fill="none" stroke="#161616" stroke-width="1.2"/>
<path d="M720.8,570 L727.6,567.2 L730,572 L723.2,575.2Z" fill="none" stroke="#161616" stroke-width="1.9"/>
<path d="M764.5,658.3 C765.4,658.9 767.8,661.6 770,662 C772.2,662.4 775.8,661.7 778,660.5 C780.2,659.3 781.3,656 783,655 C784.7,654 787.4,654.4 788.3,654.3" fill="none" stroke="#161616" stroke-width="1.7"/>
<path d="M766,661 C766.8,661.6 768.8,664.2 771,664.5 C773.2,664.8 776.8,664.2 779,663 C781.2,661.8 783.2,658.4 784,657.5" fill="none" stroke="#555" stroke-width="1"/>
<path d="M826.3,774.2 C828.2,773.8 834.3,773.1 838,772 C841.7,770.9 846.9,768.3 848.7,767.6" fill="none" stroke="#161616" stroke-width="1.7"/>
<path d="M828.2,779.8 C830.2,779.4 836.3,778.8 840,777.5 C843.7,776.2 848.8,773.2 850.6,772.3" fill="none" stroke="#161616" stroke-width="1.7"/>
<path d="M863.5,851.8 L882,841.2 L884.8,841.5 L916.2,902.5 L917,906 L954.4,975.8 L933.8,985.3 L896.5,912.7Z" fill="#fff" stroke="#161616" stroke-width="2.4"/>
<path d="M933.8,985.3 L954.4,975.8" fill="none" stroke="#161616" stroke-width="3.1"/>
<path d="M869.3,856.2 L876.7,852.6 L878.9,858.4 L871.5,861.4Z" fill="none" stroke="#161616" stroke-width="1.9"/>
<path d="M896.5,912.7 C897.6,912.8 900.9,914.6 903,913.5 C905.1,912.4 906.8,907.7 909,906 C911.2,904.3 915,903.7 916.2,903.2" fill="none" stroke="#161616" stroke-width="1.7"/>
<path d="M898,915.2 C899.1,915.3 902.4,917.1 904.5,916 C906.6,914.9 908.4,910.2 910.5,908.5 C912.6,906.8 915.9,906.2 917,905.8" fill="none" stroke="#555" stroke-width="1"/>
<ellipse cx="914.8" cy="934" rx="5.2" ry="5.4" fill="none" stroke="#161616" stroke-width="1.9"/>
<ellipse cx="932.4" cy="970.6" rx="5.2" ry="5.4" fill="none" stroke="#161616" stroke-width="1.9"/>
</g>
<g class="z" transform="translate(700,490) scale(0.08000)" stroke-linecap="round" stroke-linejoin="round">
<path d="M600,370 L640,335 L810,260 L850,280 L1000,520 L1070,680 L1060,760 L870,860 L820,830 L720,640 L640,520 L610,440Z" fill="#fff" stroke="#161616" stroke-width="2.7"/>
<path d="M640,390 L820,300 L950,500 L740,620Z" fill="none" stroke="#161616" stroke-width="2.3"/>
<path d="M610,380 C611.7,391.7 613.3,425 620,450 C626.7,475 636.7,503.3 650,530 C663.3,556.7 691.7,596.7 700,610" fill="none" stroke="#161616" stroke-width="4.4"/>
<path d="M790,720 L950,640 L1062,700 L1058,760 L870,856 L822,828Z" fill="#161616" stroke="#161616" stroke-width="2.1"/>
<path d="M960,560 L1000,640 L1040,690 L1060,690" fill="none" stroke="#161616" stroke-width="2.5"/>
<path d="M900,640 L920,720 L960,700 L950,640" fill="none" stroke="#161616" stroke-width="3.1"/>
<path d="M1010,620 L1050,610 L1050,660 L1020,660Z" fill="#161616" stroke="#161616" stroke-width="1.7"/>
<path d="M840,760 L900,730 L905,745 L846,776Z" fill="#bbb" stroke="#bbb" stroke-width="0.5"/>
<path d="M850,800 L940,755 L945,770 L856,815Z" fill="#bbb" stroke="#bbb" stroke-width="0.5"/>
<path d="M900,985 L990,920 L1020,940 L1100,900 L1150,875 L1180,960 L1240,1060 L1210,1100 L1060,1180 L990,1190 L940,1100 L930,1060Z" fill="#fff" stroke="#161616" stroke-width="2.7"/>
<path d="M1000,930 L1085,1120 M1100,900 L1135,1090 M1150,880 L1200,1040 M1060,1175 L1235,1065 M930,1060 L1000,1010" fill="none" stroke="#161616" stroke-width="2.5"/>
<path d="M990,1185 C1001.7,1179.2 1036.7,1164.2 1060,1150 C1083.3,1135.8 1118.3,1108.3 1130,1100" fill="none" stroke="#161616" stroke-width="3.1"/>
</g>
<g class="z" transform="translate(840,780) scale(0.14663)" stroke-linecap="round" stroke-linejoin="round">
<path d="M355,200 L380,170 L470,125 L500,140 L560,260 L615,380 L605,412 L500,456 L475,440 L420,320 L375,260Z" fill="#fff" stroke="#161616" stroke-width="2.7"/>
<path d="M385,205 L480,150 L550,270 L440,320Z" fill="none" stroke="#161616" stroke-width="2.3"/>
<path d="M362,205 C363.7,212.5 365.7,234.2 372,250 C378.3,265.8 391.2,287.5 400,300 C408.8,312.5 420.8,320.8 425,325" fill="none" stroke="#161616" stroke-width="4.2"/>
<path d="M455,360 L550,310 L610,385 L603,410 L500,452 L472,425Z" fill="#161616" stroke="#161616" stroke-width="2.1"/>
<path d="M470,345 L520,330 L530,370 L480,385Z" fill="#fff" stroke="#fff" stroke-width="0.5"/>
<path d="M540,325 L560,300 L590,350 L570,370Z" fill="#fff" stroke="#fff" stroke-width="0.5"/>
<path d="M530,530 L570,490 L600,505 L625,480 L660,470 L680,520 L705,570 L690,590 L600,636 L570,630 L545,590Z" fill="#fff" stroke="#161616" stroke-width="2.7"/>
<path d="M575,495 L605,605 M625,482 L645,600 M660,472 L690,560 M600,550 L690,540 M545,590 L580,570" fill="none" stroke="#161616" stroke-width="2.5"/>
</g>
<!-- p24.py -->
<g class="z" transform="translate(560,440) scale(0.21322)" stroke-linecap="round" stroke-linejoin="round">
<path d="M100,72 C104.2,78.3 116.7,92 125,110 C133.3,128 140.8,158.3 150,180 C159.2,201.7 172.5,221.7 180,240 C187.5,258.3 194.7,275 195,290 C195.3,305 184.2,323.3 182,330" fill="none" stroke="#161616" stroke-width="3.4"/>
<path d="M182,330 C185,338.3 192,361.7 200,380 C208,398.3 218.3,418.3 230,440 C241.7,461.7 259.2,490 270,510 C280.8,530 291.7,545 295,560 C298.3,575 293.3,590 290,600 C286.7,610 273.3,614.7 275,620 C276.7,625.3 290.8,632.8 300,632 C309.2,631.2 323.3,624.5 330,615 C336.7,605.5 335,585.5 340,575 C345,564.5 354,552.8 360,552 C366,551.2 376.3,562 376,570 C375.7,578 363,588.3 358,600 C353,611.7 344,623.3 346,640 C348,656.7 357.7,675 370,700 C382.3,725 401.7,760 420,790 C438.3,820 461.7,851.7 480,880 C498.3,908.3 521.7,946.7 530,960" fill="none" stroke="#161616" stroke-width="4.7"/>
<path d="M530,960 C535,970 548.3,998.3 560,1020 C571.7,1041.7 590,1068.3 600,1090 C610,1111.7 611.7,1133 620,1150 C628.3,1167 645,1185 650,1192" fill="none" stroke="#161616" stroke-width="4.2"/>
<path d="M515,965 C522.5,977.5 544.2,1011.7 560,1040 C575.8,1068.3 601.7,1119.2 610,1135" fill="none" stroke="#161616" stroke-width="5.6"/>
<ellipse cx="535" cy="972" rx="18" ry="14" fill="#161616" stroke="#161616" stroke-width="1"/>
<ellipse cx="352" cy="576" rx="16" ry="18" fill="none" stroke="#161616" stroke-width="3.5"/>
<ellipse cx="604" cy="1132" rx="18" ry="14" fill="#161616" stroke="#161616" stroke-width="1"/>
<path d="M632.7,1218.3 L677.3,1191.7 L817.3,1426.7 L772.7,1453.3Z" fill="#161616" stroke="#161616" stroke-width="2.1"/>
<path d="M637.7,1218.9 L681.6,1206.7" fill="none" stroke="#b5b5b5" stroke-width="0.9"/>
<path d="M647,1234.6 L691,1222.4" fill="none" stroke="#b5b5b5" stroke-width="0.9"/>
<path d="M656.4,1250.3 L700.3,1238.1" fill="none" stroke="#b5b5b5" stroke-width="0.9"/>
<path d="M665.7,1265.9 L709.6,1253.7" fill="none" stroke="#b5b5b5" stroke-width="0.9"/>
<path d="M675,1281.6 L719,1269.4" fill="none" stroke="#b5b5b5" stroke-width="0.9"/>
<path d="M684.4,1297.3 L728.3,1285.1" fill="none" stroke="#b5b5b5" stroke-width="0.9"/>
<path d="M693.7,1312.9 L737.6,1300.7" fill="none" stroke="#b5b5b5" stroke-width="0.9"/>
<path d="M703,1328.6 L747,1316.4" fill="none" stroke="#b5b5b5" stroke-width="0.9"/>
<path d="M712.4,1344.3 L756.3,1332.1" fill="none" stroke="#b5b5b5" stroke-width="0.9"/>
<path d="M721.7,1359.9 L765.6,1347.7" fill="none" stroke="#b5b5b5" stroke-width="0.9"/>
<path d="M731,1375.6 L775,1363.4" fill="none" stroke="#b5b5b5" stroke-width="0.9"/>
<path d="M740.4,1391.3 L784.3,1379.1" fill="none" stroke="#b5b5b5" stroke-width="0.9"/>
<path d="M749.7,1406.9 L793.6,1394.7" fill="none" stroke="#b5b5b5" stroke-width="0.9"/>
<path d="M759,1422.6 L803,1410.4" fill="none" stroke="#b5b5b5" stroke-width="0.9"/>
<path d="M768.4,1438.3 L812.3,1426.1" fill="none" stroke="#b5b5b5" stroke-width="0.9"/>
<path d="M795,1440 C798.3,1444.2 808.3,1455 815,1465 C821.7,1475 831.7,1494.2 835,1500" fill="none" stroke="#161616" stroke-width="5.7"/>
</g>
<g class="z" transform="translate(690,720) scale(0.18674)" stroke-linecap="round" stroke-linejoin="round">
<path d="M205,145 C208.3,150 202.5,132.5 225,175 C247.5,217.5 320.8,362.5 340,400" fill="none" stroke="#161616" stroke-width="6.4"/>
<ellipse cx="243" cy="190" rx="28" ry="22" transform="rotate(30 243 190)" fill="#161616" stroke="#161616" stroke-width="1"/>
<ellipse cx="325" cy="372" rx="30" ry="22" transform="rotate(30 325 372)" fill="#161616" stroke="#161616" stroke-width="1"/>
<path d="M340,400 C353.3,420 396.7,483.3 420,520 C443.3,556.7 460,583.3 480,620 C500,656.7 520,700 540,740 C560,780 580,820 600,860 C620,900 641.7,943.3 660,980 C678.3,1016.7 696.7,1053.3 710,1080 C723.3,1106.7 728.3,1123.3 740,1140 C751.7,1156.7 773.3,1173.3 780,1180" fill="none" stroke="#161616" stroke-width="4.5"/>
<path d="M780,1180 C782.5,1188.3 796.3,1218 795,1230 C793.7,1242 772.5,1245 772,1252 C771.5,1259 782,1271.3 792,1272 C802,1272.7 825.7,1268 832,1256 C838.3,1244 827,1214.3 830,1200 C833,1185.7 841.7,1171.7 850,1170 C858.3,1168.3 873.3,1180 880,1190 C886.7,1200 881.7,1218.3 890,1230 C898.3,1241.7 918.3,1253 930,1260 C941.7,1267 955,1270 960,1272" fill="none" stroke="#161616" stroke-width="4"/>
<path d="M960,1272 C965,1278.3 985.8,1295.3 990,1310 C994.2,1324.7 985.8,1351.7 985,1360" fill="none" stroke="#161616" stroke-width="3.3"/>
</g>
<!-- p25.py -->
<g class="z" transform="translate(225,480) scale(0.13333)" stroke-linecap="round" stroke-linejoin="round">
<path d="M110,860 C110.7,840 118.3,774.7 125,740 C131.7,705.3 148.7,634.7 160,600 C171.3,565.3 191.3,510.7 210,480 C228.7,449.3 272,395.3 300,370 C328,344.7 385.3,310 420,290 C454.7,270 522.7,236 560,220 C597.3,204 661.3,180.7 700,170 C738.7,159.3 810,146.7 850,140 C890,133.3 968,124.7 1000,120 C1032,115.3 1070,107.7 1090,105 C1110,102.3 1135.3,94 1150,100 C1164.7,106 1189.3,132.7 1200,150 C1210.7,167.3 1226.3,208.7 1230,230 C1233.7,251.3 1232,297.7 1228,310 C1224,322.3 1210.4,319.3 1200,322 C1189.6,324.7 1170,324.9 1150,330 C1130,335.1 1076.7,353.3 1050,360 C1023.3,366.7 975.3,374.7 950,380 C924.7,385.3 874.7,393.3 860,400 C845.3,406.7 848,420.7 840,430 C832,439.3 818.7,459.3 800,470 C781.3,480.7 726.7,495.3 700,510 C673.3,524.7 624,560 600,580 C576,600 533.3,638.7 520,660 C506.7,681.3 510.7,722.7 500,740 C489.3,757.3 456,782 440,790 C424,798 392,788 380,800 C368,812 355.3,858.7 350,880 C344.7,901.3 346.7,945.3 340,960 C333.3,974.7 313.3,986.7 300,990 C286.7,993.3 257.3,991.7 240,985 C222.7,978.3 186,952.7 170,940 C154,927.3 128,900.7 120,890 C112,879.3 109.3,880 110,860Z" fill="#fff" stroke="#161616" stroke-width="3.1"/>
<path d="M210,480 C225,461.7 265,401.7 300,370 C335,338.3 376.7,315 420,290 C463.3,265 513.3,240 560,220 C606.7,200 651.7,183.3 700,170 C748.3,156.7 800,148.3 850,140 C900,131.7 960,125.8 1000,120 C1040,114.2 1075,107.5 1090,105" fill="none" stroke="#161616" stroke-width="4.7"/>
<path d="M250,500 C256,477.3 277.3,416 300,390 C322.7,364 389.3,323.7 420,305 C450.7,286.3 506,259.3 530,250 C554,240.7 598.7,228.3 600,235 C601.3,241.7 554.7,283.3 540,300 C525.3,316.7 499.3,341.3 490,360 C480.7,378.7 468.7,418.7 470,440 C471.3,461.3 490.7,504 500,520 C509.3,536 548,544 540,560 C532,576 461.3,625.3 440,640 C418.7,654.7 398.7,674 380,670 C361.3,666 316.7,624.7 300,610 C283.3,595.3 261.7,574.7 255,560 C248.3,545.3 244,522.7 250,500Z" fill="#161616" stroke="#161616" stroke-width="2.1"/>
<path d="M300,560 C298.3,550 286.7,520 290,500 C293.3,480 306.7,456.7 320,440 C333.3,423.3 361.7,406.7 370,400" fill="none" stroke="#fff" stroke-width="3"/>
<path d="M350,610 C346.7,598.3 328.3,561.7 330,540 C331.7,518.3 346.7,496.7 360,480 C373.3,463.3 401.7,446.7 410,440" fill="none" stroke="#fff" stroke-width="2.6"/>
<path d="M410,600 C408.3,590 396.7,558.3 400,540 C403.3,521.7 425,498.3 430,490" fill="none" stroke="#fff" stroke-width="2.4"/>
<path d="M450,560 C448.3,550 438.3,518.3 440,500 C441.7,481.7 456.7,458.3 460,450" fill="none" stroke="#fff" stroke-width="2"/>
<path d="M330,420 C345,408.3 391.7,370 420,350 C448.3,330 486.7,308.3 500,300" fill="none" stroke="#fff" stroke-width="2.2"/>
<path d="M560,300 C553.3,310 526.7,336.7 520,360 C513.3,383.3 513.3,416.7 520,440 C526.7,463.3 543.3,491.7 560,500 C576.7,508.3 610,491.7 620,490" fill="none" stroke="#161616" stroke-width="2.5"/>
<path d="M600,235 C616.7,230 658.3,215 700,205 C741.7,195 800,184.2 850,175 C900,165.8 965,154.2 1000,150 C1035,145.8 1050,150 1060,150" fill="none" stroke="#161616" stroke-width="1.9"/>
<path d="M128,745 C140,752.5 174.7,780 200,790 C225.3,800 255.8,803.3 280,805 C304.2,806.7 334.2,800.8 345,800" fill="none" stroke="#161616" stroke-width="2.7"/>
<path d="M158,640 C168.3,648.3 196.3,676.3 220,690 C243.7,703.7 272.5,719.5 300,722 C327.5,724.5 370.8,707.8 385,705" fill="none" stroke="#161616" stroke-width="2.5"/>
<path d="M215,500 C222.5,513.3 240.8,555 260,580 C279.2,605 306.7,633.3 330,650 C353.3,666.7 388.3,675 400,680" fill="none" stroke="#161616" stroke-width="2.3"/>
<path d="M345,800 C342.5,813.3 333.8,849.2 330,880 C326.2,910.8 323.3,967.5 322,985" fill="none" stroke="#161616" stroke-width="2.3"/>
<path d="M135,870 C142.5,879.2 160.8,909.2 180,925 C199.2,940.8 226.7,956.7 250,965 C273.3,973.3 308.3,973.3 320,975" fill="none" stroke="#161616" stroke-width="1.9"/>
<path d="M440,790 C436.7,775 413.3,731.7 420,700 C426.7,668.3 450,631.7 480,600 C510,568.3 546.7,536.7 600,510 C653.3,483.3 766.7,451.7 800,440" fill="none" stroke="#161616" stroke-width="2.3"/>
<path d="M400,800 C398.7,786.7 382,753.3 392,720 C402,686.7 427,638.3 460,600 C493,561.7 536.7,520 590,490 C643.3,460 740,435.8 780,420 C820,404.2 821.7,399.2 830,395" fill="none" stroke="#161616" stroke-width="2.1"/>
<path d="M470,700 L520,690 L520,740 L470,770" fill="none" stroke="#161616" stroke-width="2.1"/>
<path d="M545,400 C554.2,393.3 577.5,371.7 600,360 C622.5,348.3 653.3,340 680,330 C706.7,320 723.3,312.5 760,300 C796.7,287.5 876.7,262.5 900,255" fill="none" stroke="#161616" stroke-width="2.1"/>
<path d="M545,400 L580,440 L640,420 L700,440 L760,410" fill="none" stroke="#161616" stroke-width="3.1"/>
<path d="M580,380 L610,420 L650,400" fill="none" stroke="#161616" stroke-width="2.7"/>
<path d="M920,195 L1020,180 L1025,210 L925,225Z" fill="none" stroke="#161616" stroke-width="2.1"/>
<ellipse cx="822" cy="268" rx="12" ry="6" fill="#161616" stroke="#161616" stroke-width="1.4"/>
<path d="M690,470 L695,510 M800,440 L830,480 M790,485 L815,495 M830,395 L850,470" fill="none" stroke="#161616" stroke-width="2.5"/>
<path d="M780,395 C783.3,387.5 780,363.3 800,350 C820,336.7 858.3,324.7 900,315 C941.7,305.3 1003.3,294.5 1050,292 C1096.7,289.5 1158.3,298.7 1180,300" fill="none" stroke="#161616" stroke-width="2.5"/>
<path d="M800,380 C816.7,373.3 858.3,350.3 900,340 C941.7,329.7 1006.7,321 1050,318 C1093.3,315 1141.7,321.3 1160,322" fill="none" stroke="#161616" stroke-width="1.7"/>
<path d="M1060,150 C1058.3,161.7 1043.3,201.3 1050,220 C1056.7,238.7 1075,250.3 1100,262 C1125,273.7 1183.3,285.3 1200,290" fill="none" stroke="#161616" stroke-width="2.5"/>
<ellipse cx="1135" cy="185" rx="48" ry="58" transform="rotate(-20 1135 185)" fill="none" stroke="#161616" stroke-width="4.2"/>
<ellipse cx="1140" cy="190" rx="26" ry="34" transform="rotate(-20 1140 190)" fill="none" stroke="#161616" stroke-width="2.7"/>
<path d="M1180,240 C1185.8,241.7 1207,240 1215,250 C1223,260 1225.8,291.7 1228,300" fill="none" stroke="#161616" stroke-width="3.5"/>
</g>
<g class="z" transform="translate(225,480) scale(0.13333)" stroke-linecap="round" stroke-linejoin="round">
<path d="M895,488 L925,484 L932,590 L905,592Z" fill="#161616" stroke="#161616" stroke-width="2.1"/>
<ellipse cx="920" cy="602" rx="28" ry="17" fill="#161616" stroke="#161616" stroke-width="2.1"/>
<path d="M385,960 L450,920 L515,935 L500,958 L460,985 L395,987Z" fill="#fff" stroke="#161616" stroke-width="2.7"/>
<path d="M400,962 L455,940 L500,945" fill="none" stroke="#161616" stroke-width="2.7"/>
<path d="M402,987 L422,1172 L472,1182 L466,1100 L452,987Z" fill="#fff" stroke="#161616" stroke-width="2.7"/>
<path d="M430,990 L445,1150" fill="none" stroke="#161616" stroke-width="2.1"/>
<path d="M422,1150 L470,1160" fill="none" stroke="#161616" stroke-width="3.1"/>
<path d="M496,1265 L528,1262 L532,1330 L504,1332Z" fill="#161616" stroke="#161616" stroke-width="2.1"/>
<ellipse cx="520" cy="1340" rx="28" ry="17" fill="#161616" stroke="#161616" stroke-width="2.1"/>
</g>
<!-- p29.py -->
<g class="z" transform="translate(500,640) scale(0.12669)" stroke-linecap="round" stroke-linejoin="round">
<path d="M125,225 L205,150 L265,150 L330,260 L400,400 L465,490 L520,455 L600,430 L700,435 L790,470 L860,540 L905,610 L925,720 L942,860 L930,905 L915,915 L930,1000 L945,1040 L975,1080 L985,1200 L985,1290 L960,1330 L880,1372 L850,1360 L840,1290 L800,1262 L760,1250 L740,1212 L520,1252 L500,1150 L535,1122 L480,1092 L425,1076 L420,1016 L475,1000 L440,900 L395,795 L330,680 L240,520 L165,350Z" fill="#fff" stroke="#161616" stroke-width="2.7"/>
<path d="M125,225 L205,190 L262,330 L330,480 L400,590 L470,560 L545,600 L560,680 L600,760 L620,900 L560,1000 L480,1000 L440,900 L395,795 L330,680 L240,520 L165,350Z" fill="#161616" stroke="#161616" stroke-width="2.1"/>
<path d="M190,268 L228,255 L240,290 L200,305Z" fill="#fff" stroke="#fff" stroke-width="0.8"/>
<path d="M212,335 L270,315 L290,370 L232,392Z" fill="#fff" stroke="#fff" stroke-width="0.8"/>
<path d="M268,430 L322,412 L342,462 L290,482Z" fill="#fff" stroke="#fff" stroke-width="0.8"/>
<path d="M318,520 L352,508 L366,540 L332,552Z" fill="#fff" stroke="#fff" stroke-width="0.8"/>
<path d="M452,590 L540,560 L548,590 L460,620Z" fill="#fff" stroke="#fff" stroke-width="0.8"/>
<path d="M455,650 L545,622 L552,650 L462,680Z" fill="#fff" stroke="#fff" stroke-width="0.8"/>
<path d="M455,735 L560,700 L568,722 L462,760Z" fill="#fff" stroke="#fff" stroke-width="0.8"/>
<path d="M470,780 L575,745 L582,768 L478,805Z" fill="#fff" stroke="#fff" stroke-width="0.8"/>
<path d="M485,825 L590,790 L598,812 L492,850Z" fill="#fff" stroke="#fff" stroke-width="0.8"/>
<path d="M500,868 L600,835 L606,858 L508,892Z" fill="#fff" stroke="#fff" stroke-width="0.8"/>
<path d="M510,950 L640,912 L648,945 L520,985Z" fill="#fff" stroke="#fff" stroke-width="0.8"/>
<path d="M152,240 C158,260 169.7,313.3 188,360 C206.3,406.7 235,466.7 262,520 C289,573.3 324.7,633.3 350,680 C375.3,726.7 395.7,763.3 414,800 C432.3,836.7 446.7,869.2 460,900 C473.3,930.8 488.3,970.8 494,985" fill="none" stroke="#fff" stroke-width="3.2"/>
<path d="M400,640 C406.7,653.3 428.3,693.3 440,720 C451.7,746.7 460,773.3 470,800 C480,826.7 495,866.7 500,880" fill="none" stroke="#fff" stroke-width="2.2"/>
<path d="M205,170 C207.8,164.4 242,154.5 250,156 C258,157.5 273,167.6 285,185 C297,202.4 352.3,300.3 370,330 C387.7,359.7 454.8,463.8 462,482 C469.2,500.2 447.2,510.2 442,512 C436.8,513.8 422.2,516.2 410,500 C397.8,483.8 338.8,378.8 320,350 C301.2,321.2 233.5,230 222,212 C210.5,194 202.2,175.6 205,170Z" fill="#fff" stroke="#161616" stroke-width="3.1"/>
<path d="M150,215 L190,200" fill="none" stroke="#fff" stroke-width="2"/>
<path d="M470,500 C478.3,493.7 498.3,470 520,462 C541.7,454 573.3,447.3 600,452 C626.7,456.7 656.7,472 680,490 C703.3,508 723.3,535 740,560 C756.7,585 770,606.7 780,640 C790,673.3 793.3,716.7 800,760 C806.7,803.3 813.3,855 820,900 C826.7,945 833.3,996.7 840,1030 C846.7,1063.3 856.7,1088.3 860,1100" fill="none" stroke="#161616" stroke-width="6.2"/>
<path d="M600,430 C608.3,436.7 633.3,455 650,470 C666.7,485 691.7,511.7 700,520" fill="none" stroke="#161616" stroke-width="3.1"/>
<path d="M540,520 L600,490 L590,540 L560,545Z" fill="#161616" stroke="#161616" stroke-width="2.1"/>
<path d="M560,560 C573.3,566.7 618.3,576.7 640,600 C661.7,623.3 681.7,666.7 690,700 C698.3,733.3 696.7,771.7 690,800 C683.3,828.3 656.7,858.3 650,870" fill="none" stroke="#161616" stroke-width="2.5"/>
<path d="M575,600 L660,840 M660,590 L665,850 M570,590 L690,690" fill="none" stroke="#161616" stroke-width="1.7"/>
<path d="M520,890 C530,892.5 560,906.7 580,905 C600,903.3 621.7,890.8 640,880 C658.3,869.2 681.7,846.7 690,840" fill="none" stroke="#161616" stroke-width="3.1"/>
<path d="M760,600 C765,606.7 778.3,628 790,640 C801.7,652 815,670.3 830,672 C845,673.7 867.5,660.3 880,650 C892.5,639.7 900.8,616.7 905,610" fill="none" stroke="#161616" stroke-width="2.5"/>
<path d="M770,560 C778.3,566.7 803.3,595.8 820,600 C836.7,604.2 860,593.3 870,585 C880,576.7 878.3,555.8 880,550" fill="none" stroke="#161616" stroke-width="1.9"/>
<path d="M880,650 C883.3,668.3 893.3,717.5 900,760 C906.7,802.5 916.7,880.8 920,905" fill="none" stroke="#161616" stroke-width="2.3"/>
<path d="M905,615 C908.3,634.2 919.5,689.2 925,730 C930.5,770.8 935.8,838.3 938,860" fill="none" stroke="#161616" stroke-width="1.7"/>
<path d="M705,680 L745,690 L748,740 L712,730Z" fill="none" stroke="#161616" stroke-width="2.7"/>
<path d="M690,760 L700,860 M720,770 L735,900 M770,760 L790,1000" fill="none" stroke="#161616" stroke-width="2.5"/>
<path d="M650,900 L750,930 L770,1000 L650,980Z" fill="#161616" stroke="#161616" stroke-width="2.1"/>
<path d="M650,990 L800,1010 L810,1060 L600,1075Z" fill="#161616" stroke="#161616" stroke-width="2.1"/>
<path d="M610,1040 L760,1020 L765,1045 L600,1068Z" fill="#fff" stroke="#fff" stroke-width="0.8"/>
<path d="M420,1016 L520,1005 L540,1080 L425,1076Z" fill="#161616" stroke="#161616" stroke-width="2.1"/>
<path d="M520,1080 L700,1080 L820,1100 L830,1180 L700,1170 L540,1160 L500,1150Z" fill="#161616" stroke="#161616" stroke-width="2.1"/>
<path d="M590,1105 L700,1090 L705,1110 L600,1130Z" fill="#fff" stroke="#fff" stroke-width="0.8"/>
<path d="M690,1160 L790,1155 L792,1172 L692,1180Z" fill="#fff" stroke="#fff" stroke-width="0.8"/>
<path d="M560,1140 L640,1128 L645,1150 L566,1160Z" fill="#fff" stroke="#fff" stroke-width="0.8"/>
<path d="M505,1160 L530,1250 L740,1212 L735,1180Z" fill="#fff" stroke="#161616" stroke-width="2.9"/>
<path d="M560,1175 L575,1240 M600,1180 L612,1235 M650,1170 L660,1225 M690,1160 L700,1218" fill="none" stroke="#161616" stroke-width="3.1"/>
<path d="M850,1100 L960,1040 L985,1200 L985,1290 L875,1370 L852,1280Z" fill="#fff" stroke="#161616" stroke-width="2.9"/>
<path d="M858,1152 L975,1092 M868,1290 L985,1222 M880,1160 L892,1290" fill="none" stroke="#161616" stroke-width="2.5"/>
<path d="M760,1190 L850,1180 L850,1270 L800,1262 L765,1250Z" fill="#fff" stroke="#161616" stroke-width="2.5"/>
<path d="M790,1200 L800,1255 M820,1195 L830,1262" fill="none" stroke="#161616" stroke-width="2.7"/>
<path d="M930,1000 L945,1040 L960,1040" fill="none" stroke="#161616" stroke-width="2.3"/>
</g>
<g class="z" transform="translate(0,0) scale(1.00000)" stroke-linecap="round" stroke-linejoin="round">
<ellipse cx="472.5" cy="881.6" rx="5.4" ry="2.8" transform="rotate(-8 472.5 881.6)" fill="#161616" stroke="#161616" stroke-width="1.4"/>
</g>
<!-- p30.py -->
<g class="z" transform="translate(410,720) scale(0.12000)" stroke-linecap="round" stroke-linejoin="round">
<path d="M300,370 C298.3,358.3 283.3,323.7 290,300 C296.7,276.3 321.7,243.7 340,228 C358.3,212.3 380,207.3 400,206 C420,204.7 441.7,211 460,220 C478.3,229 495.8,243.3 510,260 C524.2,276.7 536.7,296.7 545,320 C553.3,343.3 555.8,375 560,400 C564.2,425 569.7,448.3 570,470 C570.3,491.7 563.3,520 562,530" fill="none" stroke="#161616" stroke-width="3.7"/>
<path d="M215,326 C220.8,324.7 238.3,322.3 250,318 C261.7,313.7 276.7,291.3 285,300 C293.3,308.7 294.2,350 300,370 C305.8,390 312.5,404.2 320,420 C327.5,435.8 340.8,457.5 345,465" fill="none" stroke="#161616" stroke-width="3.1"/>
<path d="M212,325 L262,292 L280,305 L250,335Z" fill="#161616" stroke="#161616" stroke-width="1.6"/>
<path d="M235,650 L250,600 L270,480 L400,400 L520,420 L600,440 L598,510 L575,540 L625,590 L650,790 L682,780 L712,940 L727,950 L722,1000 L690,1040 L580,1085 L450,1105 L330,1088 L255,1035 L238,990 L262,1000 L240,845 L250,840Z" fill="#fff" stroke="#161616" stroke-width="2.5"/>
<path d="M270,480 L400,402 L520,420 L600,440 L598,510 L540,560 L430,610 L330,640 L250,610Z" fill="#fff" stroke="#161616" stroke-width="2.5"/>
<path d="M330,450 L400,410 L470,420 L520,460 L500,530 L440,580 L370,590 L330,540Z" fill="#161616" stroke="#161616" stroke-width="2.1"/>
<ellipse cx="405" cy="425" rx="22" ry="16" fill="#fff" stroke="#161616" stroke-width="2.5"/>
<path d="M360,470 L430,450 L440,480 L372,500Z" fill="#fff" stroke="#fff" stroke-width="0.8"/>
<path d="M380,520 L450,500 L456,525 L388,548Z" fill="#fff" stroke="#fff" stroke-width="0.8"/>
<path d="M455,440 L500,450 L495,475 L452,465Z" fill="#fff" stroke="#fff" stroke-width="0.8"/>
<path d="M270,480 L300,560 M300,470 L330,540 M250,540 L330,520 M260,580 L340,560 M520,430 L540,540 M560,440 L575,530 M500,560 L560,600 M290,600 L360,640 M300,620 L380,600" fill="none" stroke="#161616" stroke-width="2.7"/>
<path d="M575,430 L600,440 L598,510 L575,520Z" fill="none" stroke="#161616" stroke-width="2.7"/>
<path d="M300,600 C306.7,596.7 326.7,580 340,580 C353.3,580 376.7,590 380,600 C383.3,610 363.3,633.3 360,640" fill="none" stroke="#161616" stroke-width="2.5"/>
<path d="M235,650 C245.8,657 269.2,685 300,692 C330.8,699 380,700.3 420,692 C460,683.7 506.3,660.3 540,642 C573.7,623.7 608.3,592 622,582" fill="none" stroke="#161616" stroke-width="4.4"/>
<path d="M380,690 C390,678.3 416.7,636.7 440,620 C463.3,603.3 497.5,602.5 520,590 C542.5,577.5 565.8,552.5 575,545" fill="none" stroke="#161616" stroke-width="2.7"/>
<path d="M470,660 L570,630 L600,650 L490,690" fill="none" stroke="#161616" stroke-width="2.1"/>
<path d="M235,650 L250,840 M330,710 L352,862 M460,692 L482,852" fill="none" stroke="#161616" stroke-width="2.5"/>
<path d="M250,840 C266.7,844.3 311.3,864 350,866 C388.7,868 443.7,859.3 482,852 C520.3,844.7 551.7,832.3 580,822 C608.3,811.7 640,795.3 652,790" fill="none" stroke="#161616" stroke-width="2.7"/>
<path d="M262,872 C280,874 330.3,885.7 370,884 C409.7,882.3 461.7,871 500,862 C538.3,853 573,840.3 600,830 C627,819.7 651.7,805 662,800" fill="none" stroke="#161616" stroke-width="2.5"/>
<path d="M262,870 L268,1005 M500,880 L532,1035 M682,782 L712,940 M660,800 L690,960" fill="none" stroke="#161616" stroke-width="2.5"/>
<path d="M240,992 C250,1000 270,1028.3 300,1040 C330,1051.7 376.7,1062 420,1062 C463.3,1062 516.7,1052.8 560,1040 C603.3,1027.2 653,1000.8 680,985 C707,969.2 715,951.7 722,945" fill="none" stroke="#161616" stroke-width="3.1"/>
<path d="M245,1020 C259.2,1030.8 295.8,1071.2 330,1085 C364.2,1098.8 408.3,1103.8 450,1103 C491.7,1102.2 540,1092.2 580,1080 C620,1067.8 665.7,1050 690,1030 C714.3,1010 720,971.7 726,960" fill="none" stroke="#161616" stroke-width="5.2"/>
<path d="M470,1100 L485,1232 L542,1226 L522,1090Z" fill="#fff" stroke="#161616" stroke-width="2.5"/>
<path d="M480,1190 L485,1238 L545,1240 L538,1188Z" fill="#161616" stroke="#161616" stroke-width="2.1"/>
</g>
<!-- p31.py -->
<g class="z" transform="translate(150,800) scale(0.16667)" stroke-linecap="round" stroke-linejoin="round">
<path d="M790,225 C775.8,195.2 680.8,5 668,-30 C655.2,-65 673.9,-66.8 680,-75 C686.1,-83.2 709.3,-97.1 720,-100 C730.7,-102.9 759.2,-111.7 772,-100 C784.8,-88.3 813.3,-29.7 830,0 C846.7,29.7 905.1,136.9 915,155" fill="#fff" stroke="#161616" stroke-width="2.4"/>
<path d="M682,0 C691.3,26.2 770.3,178.2 785,205 C799.7,231.8 802,230.6 808,230 C814,229.4 844.2,227.4 836,200 C827.8,172.6 753.3,20.7 738,-5 C722.7,-30.7 711.5,-20.6 705,-20 C698.5,-19.4 672.7,-26.2 682,0Z" fill="none" stroke="#161616" stroke-width="3.7"/>
<path d="M712,20 C721.7,38.7 783.3,159.6 795,180 C806.7,200.4 809.5,195.6 812,195 C814.5,194.4 823.8,194.2 816,175 C808.2,155.8 753.3,46.9 745,30" fill="none" stroke="#161616" stroke-width="1.7"/>
<path d="M800,232 L880,392" fill="none" stroke="#161616" stroke-width="2.1"/>
<path d="M880,232 C886,214.7 889.3,184.9 900,170 C910.7,155.1 942.7,128.7 960,120 C977.3,111.3 1011.3,105 1030,105 C1048.7,105 1082.7,111.3 1100,120 C1117.3,128.7 1147.3,156 1160,170 C1172.7,184 1187.7,203.7 1195,225 C1202.3,246.3 1209,290.7 1215,330 C1221,369.3 1233.7,478.7 1240,520 C1246.3,561.3 1257.3,618.7 1262,640 C1266.7,661.3 1271.7,656.7 1275,680 C1278.3,703.3 1299.7,793.4 1287,815 C1274.3,836.6 1208.9,837.1 1180,842 C1151.1,846.9 1095.3,852.7 1070,852 C1044.7,851.3 1007.3,843.7 990,837 C972.7,830.3 949.3,822.9 940,802 C930.7,781.1 926,705.3 920,680 C914,654.7 899,628 895,612 C891,596 892.7,585.6 890,560 C887.3,534.4 879.7,454.7 875,420 C870.3,385.3 854.3,325.1 855,300 C855.7,274.9 874,249.3 880,232Z" fill="#fff" stroke="#161616" stroke-width="2.4"/>
<path d="M885,238 C897.5,242 934.2,259 960,262 C985.8,265 1011.7,259.3 1040,256 C1068.3,252.7 1104.7,247 1130,242 C1155.3,237 1181.7,228.7 1192,226" fill="none" stroke="#161616" stroke-width="3.5"/>
<path d="M900,282 C916.7,281 966.7,279.3 1000,276 C1033.3,272.7 1068,268 1100,262 C1132,256 1176.7,243.7 1192,240" fill="none" stroke="#161616" stroke-width="2.5"/>
<path d="M905,262 C920.8,263 967.5,270 1000,268 C1032.5,266 1083.3,253 1100,250" fill="none" stroke="#161616" stroke-width="1.7"/>
<path d="M885,300 C892.5,297.7 910.8,286 930,286 C949.2,286 980,289.3 1000,300 C1020,310.7 1037.5,325 1050,350 C1062.5,375 1069.2,415 1075,450 C1080.8,485 1088.8,531.7 1085,560 C1081.2,588.3 1066.2,606.7 1052,620 C1037.8,633.3 1017,640 1000,640 C983,640 958.3,623.3 950,620" fill="none" stroke="#161616" stroke-width="2.3"/>
<path d="M905,360 C908.2,332.5 923.3,336.7 935,335 C946.7,333.3 965.5,339.2 975,350 C984.5,360.8 987.5,365 992,400 C996.5,435 1004.8,529 1002,560 C999.2,591 985.3,584 975,586 C964.7,588 949.8,586.3 940,572 C930.2,557.7 921.8,535.3 916,500 C910.2,464.7 901.8,387.5 905,360Z" fill="none" stroke="#161616" stroke-width="2.5"/>
<path d="M890,340 C895.8,335.3 909.2,314.5 925,312 C940.8,309.5 970,312 985,325 C1000,338 1008.3,350.8 1015,390 C1021.7,429.2 1029.2,523 1025,560 C1020.8,597 1004.2,605.3 990,612 C975.8,618.7 948.3,602 940,600" fill="none" stroke="#161616" stroke-width="1.9"/>
<ellipse cx="1090" cy="345" rx="26" ry="15" transform="rotate(-8 1090 345)" fill="none" stroke="#161616" stroke-width="2.1"/>
<path d="M1050,350 C1061.7,346.7 1095,336.7 1120,330 C1145,323.3 1186.7,313.3 1200,310" fill="none" stroke="#161616" stroke-width="1.7"/>
<path d="M920,672 C933.3,676.7 970,696.7 1000,700 C1030,703.3 1066.7,697.7 1100,692 C1133.3,686.3 1172.5,673.8 1200,666 C1227.5,658.2 1254.2,648.5 1265,645" fill="none" stroke="#161616" stroke-width="2.3"/>
<path d="M900,640 C915,644.7 958.3,664.7 990,668 C1021.7,671.3 1056.7,664.7 1090,660 C1123.3,655.3 1162.5,646.3 1190,640 C1217.5,633.7 1244.2,625 1255,622" fill="none" stroke="#161616" stroke-width="1.9"/>
<path d="M930,762 C941.7,766.7 971.7,785 1000,790 C1028.3,795 1066.7,794.3 1100,792 C1133.3,789.7 1169.7,782 1200,776 C1230.3,770 1268.3,759.3 1282,756" fill="none" stroke="#161616" stroke-width="2.5"/>
<path d="M925,700 C937.5,705 972.5,726.3 1000,730 C1027.5,733.7 1075,723.3 1090,722" fill="none" stroke="#161616" stroke-width="1.7"/>
<path d="M1010,702 L1015,788 M1090,694 L1095,790 M945,720 L980,730 M945,745 L980,755" fill="none" stroke="#161616" stroke-width="1.9"/>
<ellipse cx="1140" cy="740" rx="30" ry="15" transform="rotate(-5 1140 740)" fill="none" stroke="#161616" stroke-width="2.3"/>
<path d="M990,815 L1020,812 L1020,832 L990,835Z" fill="none" stroke="#161616" stroke-width="2.1"/>
<path d="M1050,822 L1095,819 L1095,839 L1050,842Z" fill="none" stroke="#161616" stroke-width="2.1"/>
<path d="M1140,816 L1182,813 L1182,833 L1140,836Z" fill="none" stroke="#161616" stroke-width="2.1"/>
<path d="M886,588 L905,640 L940,650" fill="none" stroke="#161616" stroke-width="2.5"/>
</g>
<!-- p33.py -->
<g class="z" transform="translate(440,940) scale(0.12668)" stroke-linecap="round" stroke-linejoin="round">
<path d="M150,315.8 C151.1,325.6 154,361.4 157.9,389.5 C161.8,417.6 170.5,501 178.9,526.3 C187.3,551.6 205.6,568.4 221,578.9 C236.4,589.4 270.8,602.4 294.7,605.2 C318.6,608 371.9,604.9 400,600 C428.1,595.1 479.9,578.2 505.2,568.4 C530.5,558.6 569.8,538.9 589.5,526.3 C609.2,513.7 642.8,484.9 652.6,473.7 C662.4,462.5 665.9,466 663.1,442.1 C660.3,418.2 635.8,314.4 631.6,294.7" fill="#fff" stroke="#161616" stroke-width="1.7"/>
<path d="M147.4,273.7 L152.6,252.6 L200,226.3 L257.9,184.2 L294.7,181.6 L336.8,173.7 L357.9,155.3 L389.5,173.7 L431.6,157.9 L463.1,157.9 L457.9,200 L505.2,163.2 L536.8,157.9 L542.1,184.2 L594.7,184.2 L600,221 L621,247.4 L631.6,305.3 L584.2,342.1 L526.3,378.9 L505.2,400 L452.6,389.5 L368.4,410.5 L315.8,415.8 L315.8,494.7 L205.3,489.5 L200,410.5 L157.9,389.5 L147.4,336.8Z" fill="#161616" stroke="#161616" stroke-width="1.7"/>
<path d="M257.9,231.6 L273.7,221 L310.5,263.1 L294.7,273.7Z" fill="#fff" stroke="#fff" stroke-width="0.4"/>
<path d="M294.7,205.3 L326.3,210.5 L315.8,221 L292.1,215.8Z" fill="#fff" stroke="#fff" stroke-width="0.4"/>
<path d="M336.8,231.6 L378.9,226.3 L384.2,247.4 L342.1,252.6Z" fill="#fff" stroke="#fff" stroke-width="0.4"/>
<path d="M363.1,257.9 L421,265.8 L415.8,284.2 L368.4,276.3Z" fill="#fff" stroke="#fff" stroke-width="0.4"/>
<path d="M447.4,294.7 L505.2,284.2 L526.3,305.3 L473.7,327.4Z" fill="#fff" stroke="#fff" stroke-width="0.4"/>
<path d="M494.7,263.1 L568.4,257.9 L568.4,294.7 L531.6,310.5Z" fill="#fff" stroke="#fff" stroke-width="0.4"/>
<path d="M547.4,210.5 L584.2,215.8 L589.5,236.8 L552.6,231.6Z" fill="#fff" stroke="#fff" stroke-width="0.4"/>
<path d="M378.9,310.5 L426.3,326.3 L431.6,352.6 L384.2,336.8Z" fill="#fff" stroke="#fff" stroke-width="0.4"/>
<path d="M157.9,315.8 L189.5,284.2 L200,294.7 L168.4,326.3Z" fill="#fff" stroke="#fff" stroke-width="0.4"/>
<path d="M210.5,326.3 L247.4,294.7 L257.9,310.5 L221,342.1Z" fill="#fff" stroke="#fff" stroke-width="0.4"/>
<path d="M236.8,357.9 L257.9,347.4 L263.1,368.4 L242.1,373.7Z" fill="#fff" stroke="#fff" stroke-width="0.4"/>
<path d="M294.7,352.6 L326.3,357.9 L321,378.9 L294.7,373.7Z" fill="#fff" stroke="#fff" stroke-width="0.4"/>
<path d="M231.6,426.3 L284.2,421 L288.4,452.6 L252.6,471 L234.2,463.1Z" fill="#fff" stroke="#fff" stroke-width="0.4"/>
<path d="M421,486.8 L463.1,484.2 L481.6,513.1 L457.9,542.1 L436.8,521Z" fill="#161616" stroke="#161616" stroke-width="1.6"/>
<path d="M473.7,518.4 C482.5,524.1 507,542.5 526.3,552.6 C545.6,562.7 573.7,572.8 589.5,578.9 C605.3,585 615.8,587.7 621,589.5" fill="none" stroke="#161616" stroke-width="1.6"/>
<ellipse cx="652.6" cy="605.2" rx="32.6" ry="34.7" fill="#777" stroke="#161616" stroke-width="3.1"/>
<path d="M470,765 L515,755 L525,792 L480,800Z" fill="#fff" stroke="#161616" stroke-width="2.9"/>
<path d="M538,732 L585,725 L595,765 L548,772Z" fill="#fff" stroke="#161616" stroke-width="2.9"/>
<path d="M515,770 L545,755" fill="none" stroke="#161616" stroke-width="2.5"/>
<path d="M520,1035 L555,1028 L562,1075 L528,1080Z" fill="#fff" stroke="#161616" stroke-width="2.9"/>
<path d="M578,1012 L632,1005 L640,1045 L585,1052Z" fill="#fff" stroke="#161616" stroke-width="2.9"/>
<path d="M602,1052 L650,1045 L655,1085 L608,1092Z" fill="#161616" stroke="#161616" stroke-width="2.9"/>
<path d="M555,1078 L590,1072 L594,1100 L560,1104Z" fill="#fff" stroke="#161616" stroke-width="2.7"/>
<path d="M600,1020 L625,1045" fill="none" stroke="#161616" stroke-width="2.5"/>
<path d="M321,1258 L374,1215 L543,1219 L725,1234 L718,1302 L652,1350 L495,1336 L338,1297Z" fill="#161616" stroke="#161616" stroke-width="2.5"/>
<path d="M362,1253 L447,1249 L447,1263 L362,1268Z" fill="#ddd" stroke="#ddd" stroke-width="0.5"/>
<path d="M483,1239 L592,1244 L592,1258 L483,1253Z" fill="#ddd" stroke="#ddd" stroke-width="0.5"/>
<path d="M616,1263 L689,1268 L689,1282 L616,1278Z" fill="#ddd" stroke="#ddd" stroke-width="0.5"/>
<path d="M471,1292 L592,1302 L592,1316 L471,1307Z" fill="#ddd" stroke="#ddd" stroke-width="0.5"/>
<path d="M760,1322 L790,1305 L880,1340 L872,1372 L842,1378 L770,1345Z" fill="#161616" stroke="#161616" stroke-width="2.1"/>
<path d="M800,1318 L790,1350 M830,1330 L820,1362 M858,1342 L850,1372" fill="none" stroke="#999" stroke-width="0.8"/>
</g>
<g class="z" transform="translate(470,1110) scale(0.15340)" stroke-linecap="round" stroke-linejoin="round">
<path d="M215,150 L235,128 L265,130 L275,160 L262,190 L225,192 L208,180Z" fill="#161616" stroke="#161616" stroke-width="2.3"/>
<path d="M232,150 L252,148 L254,164 L234,166Z" fill="#ccc" stroke="#ccc" stroke-width="0.5"/>
<ellipse cx="240" cy="432" rx="26" ry="22" transform="rotate(-15 240 432)" fill="#fff" stroke="#161616" stroke-width="3.3"/>
<path d="M222,440 C225,442 234,451.3 240,452 C246,452.7 255,445.3 258,444" fill="none" stroke="#161616" stroke-width="3.1"/>
<path d="M180,770 C179.3,757.3 186.7,731.2 200,720 C213.3,708.8 256,691.3 280,686 C304,680.7 356,676.8 380,680 C404,683.2 445.3,700.7 460,710 C474.7,719.3 487.1,738 490,750 C492.9,762 480.7,789.1 482,800 C483.3,810.9 500.3,821.3 500,832 C499.7,842.7 493.3,868.8 480,880 C466.7,891.2 425.3,910.4 400,916 C374.7,921.6 314.7,924.7 290,922 C265.3,919.3 227.7,905.6 215,896 C202.3,886.4 196.3,860.8 195,850 C193.7,839.2 207,825.7 205,815 C203,804.3 180.7,782.7 180,770Z" fill="#fff" stroke="#161616" stroke-width="2.5"/>
<ellipse cx="335" cy="762" rx="155" ry="76" transform="rotate(-8 335 762)" fill="#161616" stroke="#161616" stroke-width="2.5"/>
<ellipse cx="330" cy="752" rx="112" ry="50" transform="rotate(-8 330 752)" fill="none" stroke="#bbb" stroke-width="1.4"/>
<ellipse cx="322" cy="745" rx="62" ry="26" transform="rotate(-8 322 745)" fill="#fff" stroke="#fff" stroke-width="1.6"/>
<ellipse cx="322" cy="747" rx="34" ry="13" transform="rotate(-8 322 747)" fill="#fff" stroke="#161616" stroke-width="2.1"/>
<path d="M205,815 C214.2,820.8 235.8,842.8 260,850 C284.2,857.2 320,860.5 350,858 C380,855.5 417.5,844.7 440,835 C462.5,825.3 477.5,805.8 485,800" fill="none" stroke="#161616" stroke-width="3.1"/>
<path d="M200,840 C210,846.3 235,870.3 260,878 C285,885.7 320,888.3 350,886 C380,883.7 415.8,873.3 440,864 C464.2,854.7 485.8,835.7 495,830" fill="none" stroke="#161616" stroke-width="2.7"/>
<path d="M210,880 C223.3,886 258.3,911 290,916 C321.7,921 368.3,916.7 400,910 C431.7,903.3 466.7,881.7 480,876" fill="none" stroke="#161616" stroke-width="2.5"/>
<path d="M102,1060 L633,966" fill="none" stroke="#161616" stroke-width="3.1"/>
<ellipse cx="540" cy="984" rx="10" ry="7" fill="#161616" stroke="#161616" stroke-width="1.2"/>
<ellipse cx="430" cy="1302" rx="200" ry="84" transform="rotate(-8 430 1302)" fill="#fff" stroke="#161616" stroke-width="4.7"/>
<ellipse cx="440" cy="1300" rx="165" ry="62" transform="rotate(-8 440 1300)" fill="none" stroke="#161616" stroke-width="2.5"/>
<ellipse cx="445" cy="1305" rx="110" ry="38" transform="rotate(-8 445 1305)" fill="none" stroke="#161616" stroke-width="3.1"/>
<ellipse cx="450" cy="1308" rx="60" ry="18" transform="rotate(-8 450 1308)" fill="none" stroke="#161616" stroke-width="2.7"/>
<path d="M300,1330 L600,1270 M330,1360 L560,1330 M370,1260 L380,1350 M520,1240 L560,1300 M380,1240 L520,1220 M390,1215 L470,1200" fill="none" stroke="#161616" stroke-width="2.5"/>
<path d="M460,1076 L476,1064 L570,1086 L586,1202 L500,1236 L482,1150Z" fill="#fff" stroke="#161616" stroke-width="2.9"/>
<path d="M476,1090 L492,1230" fill="none" stroke="#161616" stroke-width="2.1"/>
<path d="M560,1090 L575,1200" fill="none" stroke="#161616" stroke-width="2.1"/>
<path d="M250,1195 L350,1190 L358,1290 L262,1296Z" fill="#161616" stroke="#161616" stroke-width="2.5"/>
<path d="M285,1292 L352,1288 L356,1352 L292,1356Z" fill="#fff" stroke="#161616" stroke-width="2.7"/>
<path d="M232,1320 C236.7,1326.7 243.7,1349.2 260,1360 C276.3,1370.8 301.7,1380.3 330,1385 C358.3,1389.7 413.3,1387.5 430,1388" fill="none" stroke="#161616" stroke-width="5.2"/>
</g>
<g fill="none" stroke="#161616" stroke-width="1.25" stroke-linecap="round" stroke-linejoin="round">
<polyline points="900,40.3 873,40.3 865,78"/>
<polyline points="1034.5,152.3 1013,152.3 921.7,215"/>
<polyline points="1037,330 1010,330 903.3,293.3"/>
<polyline points="722.7,100 750,100 768.3,136.7"/>
<polyline points="683.3,100 710,100 736.7,138.3"/>
<polyline points="648.3,100 673.3,100 705,145"/>
<polyline points="621,122.7 646.7,122.7 676.7,141.7"/>
<polyline points="572.7,135 600,135 628.3,146.7"/>
<polyline points="518.3,135 546.7,135 583.3,160"/>
<polyline points="468.3,135 501.7,135 558.3,170"/>
<polyline points="425,138.3 456.7,138.3 533.3,168.3"/>
<polyline points="401,185 435,185 468.3,170"/>
<polyline points="401,220 435,220 470,208.3"/>
<polyline points="695,196 656.7,196 630,183.3"/>
<polyline points="588.3,248.3 622.7,248.3 633.3,220"/>
<polyline points="766.7,227.7 731.7,227.7 700,250"/>
<polyline points="340,356 375,356 388.3,296.7"/>
<polyline points="159,976.7 194,976.7 208.3,913.3"/>
<polyline points="1211,396.7 1175,396.7 1215,416.7"/>
<polyline points="1023,397 1058.3,397 1080,405.5"/>
<polyline points="983,452.3 1018.3,452.3 1038,470"/>
<polyline points="1140,551 1106.7,551 1091.7,470"/>
<polyline points="1208.3,551 1172.7,551 1163.3,510"/>
<polyline points="1026.7,615.5 989.3,615.5 936.7,649.3"/>
<polyline points="790.5,410.3 740.5,410.3 674.5,435.5"/>
<polyline points="860.7,498.3 810,498.3 783.3,541.7"/>
<polyline points="868.3,543.3 816.7,543.3 795,568.3"/>
<polyline points="879.3,609.3 824,609.3 797.7,675"/>
<polyline points="1001.7,900.7 948.3,900.7 927.7,924"/>
<polyline points="506,471 542.3,471 596.7,506.7"/>
<polyline points="232.7,475 269,475 293.3,513.3"/>
<polyline points="231,656.7 267.3,656.7 281.7,635"/>
<polyline points="232.3,711.7 268.3,711.7 293.3,661.7"/>
<polyline points="415,591 378.3,591 348.3,561.7"/>
<polyline points="515,620 550,620 576.7,693.3"/>
<polyline points="389.3,712.7 425.7,712.7 445,753.3"/>
<polyline points="323,780.3 289,780.3 321.7,840"/>
<polyline points="557.3,897.7 519.5,897.7 478.3,882.7"/>
<polyline points="681.3,942.7 644,942.7 608,982"/>
<polyline points="581.3,967.9 531.2,967.9 519.2,978"/>
<polyline points="527.4,1015.4 583.1,1015.4"/>
<polyline points="583.1,1047 529.3,1047 516,1036.9"/>
<polyline points="583.1,1082.5 528.7,1082.5 521,1078"/>
<polyline points="628,1119.2 574.7,1119.2 532,1098.7"/>
<polyline points="626.7,1151.5 573.3,1151.5 541.3,1112"/>
<polyline points="630.7,1182.7 577.3,1182.7 510.7,1137.3"/>
<polyline points="630.7,1211.2 578.7,1211.2 509.3,1178.7"/>
<polyline points="634.7,1242.7 583.2,1242.7 546.7,1236.5"/>
<polyline points="646.7,1274.7 582,1274.7 553.3,1261.3"/>
<polyline points="646,1310 584.8,1310 566.7,1302"/>
</g>
<g fill="#161616">
<circle cx="936.7" cy="649.3" r="2"/>
<circle cx="674.5" cy="435.5" r="2"/>
<circle cx="797.7" cy="675" r="2"/>
<circle cx="927.7" cy="924" r="2"/>
<circle cx="608" cy="982" r="2"/>
</g>
<g opacity="0.999" fill="#161616" font-family="'Liberation Sans', sans-serif" font-size="27.4" text-anchor="middle">
<text transform="translate(886.7,38.0) scale(0.69,1)">2</text>
<text transform="translate(1025,150.0) scale(0.69,1)">1</text>
<text transform="translate(1024,327.7) scale(0.69,1)">3</text>
<text transform="translate(736,97.7) scale(0.69,1)">4</text>
<text transform="translate(696.7,97.7) scale(0.69,1)">5</text>
<text transform="translate(661,97.7) scale(0.69,1)">6</text>
<text transform="translate(634.3,120.4) scale(0.69,1)">7</text>
<text transform="translate(586,132.7) scale(0.69,1)">8</text>
<text transform="translate(532.3,132.7) scale(0.69,1)">9</text>
<text transform="translate(485,132.7) scale(0.69,1)">10</text>
<text transform="translate(441.7,136.0) scale(0.69,1)">11</text>
<text transform="translate(418.3,182.7) scale(0.69,1)">12</text>
<text transform="translate(418.3,217.7) scale(0.69,1)">13</text>
<text transform="translate(675,193.7) scale(0.69,1)">14</text>
<text transform="translate(605,246.0) scale(0.69,1)">15</text>
<text transform="translate(748.3,225.39999999999998) scale(0.69,1)">16</text>
<text transform="translate(356.7,353.7) scale(0.69,1)">17</text>
<text transform="translate(176,974.4000000000001) scale(0.69,1)">17</text>
<text transform="translate(1193.3,394.4) scale(0.69,1)">18</text>
<text transform="translate(1040,394.7) scale(0.69,1)">19</text>
<text transform="translate(1001.7,450.0) scale(0.69,1)">20</text>
<text transform="translate(1123.3,548.7) scale(0.69,1)">21</text>
<text transform="translate(1190.7,548.7) scale(0.69,1)">22</text>
<text transform="translate(1008.3,613.2) scale(0.69,1)">23</text>
<text transform="translate(768,408.0) scale(0.69,1)">23.1</text>
<text transform="translate(835.7,496.0) scale(0.69,1)">23.2</text>
<text transform="translate(842.7,541.0) scale(0.69,1)">23.3</text>
<text transform="translate(851.7,607.0) scale(0.69,1)">23.4</text>
<text transform="translate(975,898.4000000000001) scale(0.69,1)">23.5</text>
<text transform="translate(524.5,468.7) scale(0.69,1)">24</text>
<text transform="translate(251,472.7) scale(0.69,1)">25</text>
<text transform="translate(249.3,654.4000000000001) scale(0.69,1)">26</text>
<text transform="translate(250,709.4000000000001) scale(0.69,1)">27</text>
<text transform="translate(397.3,588.7) scale(0.69,1)">28</text>
<text transform="translate(532.3,617.7) scale(0.69,1)">29</text>
<text transform="translate(407.3,710.4000000000001) scale(0.69,1)">30</text>
<text transform="translate(306.7,778.0) scale(0.69,1)">31</text>
<text transform="translate(538.3,895.4000000000001) scale(0.69,1)">32</text>
<text transform="translate(662.7,940.4000000000001) scale(0.69,1)">33</text>
<text transform="translate(556,965.6) scale(0.69,1)">33.1</text>
<text transform="translate(556,1013.1) scale(0.69,1)">33.2</text>
<text transform="translate(556,1044.7) scale(0.69,1)">33.3</text>
<text transform="translate(555,1080.2) scale(0.69,1)">33.4</text>
<text transform="translate(601.3,1116.9) scale(0.69,1)">33.5</text>
<text transform="translate(600,1149.2) scale(0.69,1)">33.6</text>
<text transform="translate(604,1180.4) scale(0.69,1)">33.7</text>
<text transform="translate(605.3,1208.9) scale(0.69,1)">33.8</text>
<text transform="translate(609.3,1240.4) scale(0.69,1)">33.9</text>
<text transform="translate(616,1272.4) scale(0.69,1)">33.10</text>
<text transform="translate(616.8,1307.7) scale(0.69,1)">33.11</text>
</g>
<line x1="0" y1="1371.5" x2="1500" y2="1371.5" stroke="#222" stroke-width="1.3"/>
<rect x="31.2" y="1406.2" width="215" height="59.6" fill="#818085"/>
<g transform="translate(20,1395) scale(0.166667)">
<polygon points="280,130 392,245 280,360 168,245" fill="#fff"/>
<polygon points="150,190 232,190 232,300 150,300" fill="#818085"/>
<g stroke="#fff" stroke-width="19" stroke-linecap="round" fill="none">
<path d="M170,222 H300 M170,246 H300 M170,270 H300"/>
</g>
<path d="M228,199 H296 Q322,199 322,222 Q322,240 306,246 Q322,252 322,270 Q322,293 296,293 H228" fill="none" stroke="#818085" stroke-width="8"/>
<g stroke="#fff" stroke-width="41" fill="none" stroke-linejoin="round">
<path d="M447,187 H598 Q618,187 618,206 V225 Q618,243 598,243 H500 M598,243 Q618,243 618,262 V281 Q618,300 598,300 H447"/>
<path d="M672,165 V225 Q672,243 692,243 H822 M822,165 V281 Q822,300 802,300 H655"/>
<path d="M1045,187 H907 Q887,187 887,206 V281 Q887,300 907,300 H1010 Q1030,300 1030,281 V262 Q1030,243 1010,243 H887"/>
<path d="M1097,322 V206 Q1097,187 1117,187 H1223 Q1243,187 1243,206 V225 Q1243,243 1223,243 H1097"/>
</g>
</g>
<g opacity="0.99" style="mix-blend-mode:multiply" font-family="'Liberation Sans', sans-serif" font-size="36" fill="#111">
<text x="288" y="1450" textLength="202" lengthAdjust="spacingAndGlyphs">ТСН-26-400.</text>
<text x="501.5" y="1450" textLength="83.5" lengthAdjust="spacingAndGlyphs" stroke="#fff" stroke-width="0.9">Схема</text>
<text x="598" y="1450" textLength="37" lengthAdjust="spacingAndGlyphs" stroke="#fff" stroke-width="0.9">1-1</text>
<text x="650" y="1450" textLength="205" lengthAdjust="spacingAndGlyphs" stroke="#fff" stroke-width="0.9">(Схема-состав.</text>
<text x="866" y="1450" textLength="127.5" lengthAdjust="spacingAndGlyphs" stroke="#fff" stroke-width="0.9">Триммер</text>
<text x="1002.5" y="1450" textLength="226" lengthAdjust="spacingAndGlyphs" stroke="#fff" stroke-width="0.9">электрический)</text>
</g>

</svg>
</body></html>
